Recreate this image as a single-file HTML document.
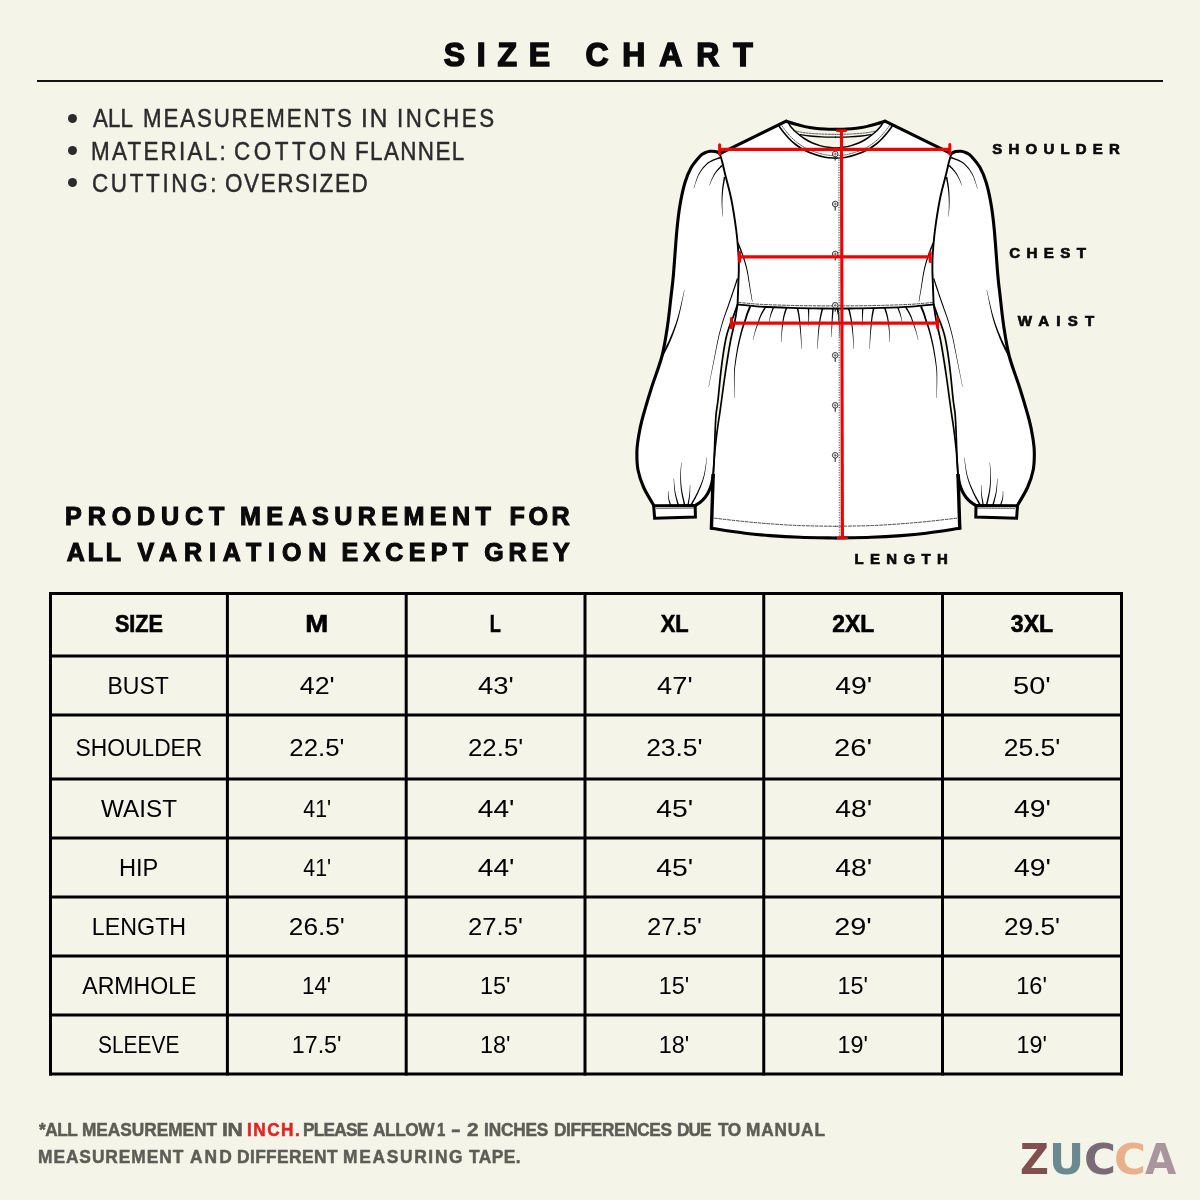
<!DOCTYPE html>
<html lang="en"><head><meta charset="utf-8"><title>Size Chart</title>
<style>
:root{--bg:#f5f4e9}
html,body{margin:0;padding:0}
body{width:1200px;height:1200px;background:var(--bg);position:relative;overflow:hidden;font-family:"Liberation Sans",sans-serif;color:#000}
.t{position:absolute;white-space:nowrap;line-height:1;margin:0;padding:0}
.w{position:absolute;top:0;transform-origin:0 0;white-space:pre}
.ln{position:absolute;background:#000}
.c{position:absolute;display:flex;align-items:center;justify-content:center;white-space:nowrap;line-height:1}
.c span{display:inline-block}
#art{position:absolute;left:0;top:0}
.logo{font-family:"DejaVu Sans",sans-serif;font-weight:bold}
#wrap{position:absolute;left:0;top:0;width:1200px;height:1200px;will-change:transform}
</style></head><body><div id="wrap">
<div class="ln" style="left:37px;top:80px;width:1126px;height:2px;background:#131313"></div>
<svg id="art" width="1200" height="600" viewBox="0 0 1200 600">
<path d="M786.20,121.20 L720.00,153.60 L720.45,155.90 L721.09,158.03 L721.82,160.50 L722.50,163.00 L723.04,165.19 L723.52,167.33 L724.11,169.97 L725.00,173.70 L726.32,178.80 L727.94,184.91 L729.65,191.67 L731.20,198.70 L732.60,206.23 L733.94,214.35 L735.17,222.47 L736.20,230.00 L737.01,236.93 L737.64,243.52 L738.13,249.60 L738.50,255.00 L738.73,259.52 L738.82,263.31 L738.82,266.70 L738.80,270.00 L738.76,272.98 L738.67,275.56 L738.54,278.37 L738.40,282.00 L738.21,287.31 L737.98,293.75 L737.75,299.81 L737.60,304.00 L737.20,306.82 L736.78,309.73 L736.29,312.97 L735.80,316.00 L735.32,318.65 L734.83,321.22 L734.30,323.85 L733.70,326.70 L733.02,329.69 L732.28,332.77 L731.50,336.14 L730.70,340.00 L729.87,344.53 L729.00,349.58 L728.13,354.84 L727.30,360.00 L726.51,365.07 L725.73,370.19 L724.99,375.21 L724.30,380.00 L723.67,384.51 L723.09,388.83 L722.54,392.98 L722.00,397.00 L721.48,400.87 L720.98,404.58 L720.49,408.18 L720.00,411.70 L719.49,415.13 L718.98,418.46 L718.48,421.73 L718.00,425.00 L717.55,428.25 L717.12,431.46 L716.70,434.69 L716.30,438.00 L715.91,441.22 L715.54,444.38 L715.18,447.84 L714.80,452.00 L714.37,457.66 L713.91,464.38 L713.49,470.66 L713.20,475.00 L711.40,528.30 L717.64,529.24 L726.64,530.60 L736.42,532.04 L745.00,533.20 L751.74,533.99 L757.73,534.60 L763.60,535.11 L770.00,535.60 L777.02,536.10 L784.34,536.56 L791.99,536.96 L800.00,537.30 L809.34,537.56 L819.68,537.76 L829.07,537.90 L835.60,538.00 L842.13,537.90 L851.52,537.76 L861.86,537.56 L871.20,537.30 L879.21,536.96 L886.86,536.56 L894.18,536.10 L901.20,535.60 L907.60,535.11 L913.48,534.60 L919.46,533.99 L926.20,533.20 L934.78,532.04 L944.56,530.60 L953.56,529.24 L959.80,528.30 L958.00,475.00 L957.71,470.66 L957.29,464.38 L956.83,457.66 L956.40,452.00 L956.02,447.84 L955.66,444.38 L955.29,441.22 L954.90,438.00 L954.50,434.69 L954.08,431.46 L953.65,428.25 L953.20,425.00 L952.72,421.73 L952.22,418.46 L951.71,415.13 L951.20,411.70 L950.71,408.18 L950.22,404.58 L949.72,400.87 L949.20,397.00 L948.66,392.98 L948.11,388.83 L947.53,384.51 L946.90,380.00 L946.21,375.21 L945.47,370.19 L944.69,365.07 L943.90,360.00 L943.07,354.84 L942.20,349.58 L941.33,344.53 L940.50,340.00 L939.70,336.14 L938.92,332.77 L938.18,329.69 L937.50,326.70 L936.90,323.85 L936.37,321.22 L935.88,318.65 L935.40,316.00 L934.91,312.97 L934.42,309.73 L934.00,306.82 L933.60,304.00 L933.45,299.81 L933.22,293.75 L932.99,287.31 L932.80,282.00 L932.66,278.37 L932.53,275.56 L932.44,272.98 L932.40,270.00 L932.38,266.70 L932.38,263.31 L932.47,259.52 L932.70,255.00 L933.07,249.60 L933.56,243.52 L934.19,236.93 L935.00,230.00 L936.03,222.47 L937.26,214.35 L938.60,206.23 L940.00,198.70 L941.55,191.67 L943.26,184.91 L944.88,178.80 L946.20,173.70 L947.09,169.97 L947.68,167.33 L948.16,165.19 L948.70,163.00 L949.38,160.50 L950.11,158.03 L950.75,155.90 L951.20,153.60 L885.00,121.20 L837.52,129.26 L840.27,129.20 L843.34,129.12 L846.20,129.00 L848.74,128.85 L851.24,128.68 L853.71,128.47 L856.20,128.20 L858.70,127.88 L861.20,127.51 L863.70,127.09 L866.20,126.60 L868.73,126.02 L871.28,125.38 L873.78,124.69 L876.20,124.00 L878.69,123.25 L881.23,122.44 L883.45,121.71 L885.00,121.20 L833.68,129.26 L830.93,129.20 L827.86,129.12 L825.00,129.00 L822.46,128.85 L819.96,128.68 L817.49,128.47 L815.00,128.20 L812.50,127.88 L810.00,127.51 L807.50,127.09 L805.00,126.60 L802.47,126.02 L799.92,125.38 L797.42,124.69 L795.00,124.00 L792.51,123.25 L789.97,122.44 L787.75,121.71 L786.20,121.20Z" fill="#fff"/>
<path d="M720.00,153.60 C719.25,153.27 717.17,151.98 715.50,151.60 C713.83,151.22 711.83,151.07 710.00,151.30 C708.17,151.53 706.17,152.18 704.50,153.00 C702.83,153.82 702.22,153.78 700.00,156.20 C697.78,158.62 693.70,163.12 691.20,167.50 C688.70,171.88 686.87,176.25 685.00,182.50 C683.13,188.75 681.35,197.08 680.00,205.00 C678.65,212.92 678.00,218.33 676.90,230.00 C675.80,241.67 674.35,264.17 673.40,275.00 C672.45,285.83 672.18,286.50 671.20,295.00 C670.22,303.50 669.03,315.83 667.50,326.00 C665.97,336.17 664.72,345.55 662.00,356.00 C659.28,366.45 654.53,378.03 651.20,388.70 C647.87,399.37 644.12,411.95 642.00,420.00 C639.88,428.05 639.35,431.67 638.50,437.00 C637.65,442.33 636.98,446.50 636.90,452.00 C636.82,457.50 636.87,464.08 638.00,470.00 C639.13,475.92 641.08,481.62 643.70,487.50 C646.32,493.38 652.03,502.33 653.70,505.30 L654.60,518.20 L695.40,517.00 L695.20,505.40 C696.08,504.83 698.87,503.32 700.50,502.00 C702.13,500.68 703.58,499.33 705.00,497.50 C706.42,495.67 707.90,493.25 709.00,491.00 C710.10,488.75 710.90,486.67 711.60,484.00 C712.30,481.33 712.93,476.50 713.20,475.00 L713.20,475.00 L713.41,471.41 L713.71,466.25 L714.03,460.47 L714.30,455.00 L714.50,450.00 L714.66,445.00 L714.81,440.00 L715.00,435.00 L715.21,429.88 L715.42,424.69 L715.67,419.65 L716.00,415.00 L716.41,411.17 L716.89,407.92 L717.43,404.46 L718.00,400.00 L718.63,393.99 L719.31,386.96 L720.02,379.78 L720.70,373.30 L721.35,367.75 L721.98,362.67 L722.62,357.90 L723.30,353.30 L724.02,348.76 L724.77,344.37 L725.54,340.31 L726.30,336.70 L727.02,333.75 L727.73,331.33 L728.47,329.09 L729.30,326.70 L730.27,324.09 L731.34,321.44 L732.44,318.75 L733.50,316.00 L734.61,312.91 L735.76,309.58 L736.79,306.59 L737.50,304.50 L737.60,304.00 L737.75,299.81 L737.97,293.75 L738.21,287.31 L738.40,282.00 L738.54,278.37 L738.67,275.56 L738.76,272.98 L738.80,270.00 L738.82,266.70 L738.82,263.31 L738.73,259.52 L738.50,255.00 L738.13,249.60 L737.64,243.52 L737.01,236.93 L736.20,230.00 L735.17,222.47 L733.94,214.35 L732.60,206.23 L731.20,198.70 L729.65,191.67 L727.94,184.91 L726.32,178.80 L725.00,173.70 L724.11,169.97 L723.52,167.32 L723.04,165.19 L722.50,163.00 L721.82,160.50 L721.09,158.03 L720.45,155.90 L720.00,154.40Z" fill="#fff"/>
<path d="M720.00,153.60 C719.25,153.27 717.17,151.98 715.50,151.60 C713.83,151.22 711.83,151.07 710.00,151.30 C708.17,151.53 706.17,152.18 704.50,153.00 C702.83,153.82 702.22,153.78 700.00,156.20 C697.78,158.62 693.70,163.12 691.20,167.50 C688.70,171.88 686.87,176.25 685.00,182.50 C683.13,188.75 681.35,197.08 680.00,205.00 C678.65,212.92 678.00,218.33 676.90,230.00 C675.80,241.67 674.35,264.17 673.40,275.00 C672.45,285.83 672.18,286.50 671.20,295.00 C670.22,303.50 669.03,315.83 667.50,326.00 C665.97,336.17 664.72,345.55 662.00,356.00 C659.28,366.45 654.53,378.03 651.20,388.70 C647.87,399.37 644.12,411.95 642.00,420.00 C639.88,428.05 639.35,431.67 638.50,437.00 C637.65,442.33 636.98,446.50 636.90,452.00 C636.82,457.50 636.87,464.08 638.00,470.00 C639.13,475.92 641.08,481.62 643.70,487.50 C646.32,493.38 652.03,502.33 653.70,505.30 L654.60,518.20 L695.40,517.00 L695.20,505.40 C696.08,504.83 698.87,503.32 700.50,502.00 C702.13,500.68 703.58,499.33 705.00,497.50 C706.42,495.67 707.90,493.25 709.00,491.00 C710.10,488.75 710.90,486.67 711.60,484.00 C712.30,481.33 712.93,476.50 713.20,475.00 L713.20,475.00 L713.41,471.41 L713.71,466.25 L714.03,460.47 L714.30,455.00 L714.50,450.00 L714.66,445.00 L714.81,440.00 L715.00,435.00 L715.21,429.88 L715.42,424.69 L715.67,419.65 L716.00,415.00 L716.41,411.17 L716.89,407.92 L717.43,404.46 L718.00,400.00 L718.63,393.99 L719.31,386.96 L720.02,379.78 L720.70,373.30 L721.35,367.75 L721.98,362.67 L722.62,357.90 L723.30,353.30 L724.02,348.76 L724.77,344.37 L725.54,340.31 L726.30,336.70 L727.02,333.75 L727.73,331.33 L728.47,329.09 L729.30,326.70 L730.27,324.09 L731.34,321.44 L732.44,318.75 L733.50,316.00 L734.61,312.91 L735.76,309.58 L736.79,306.59 L737.50,304.50 L737.60,304.00 L737.75,299.81 L737.97,293.75 L738.21,287.31 L738.40,282.00 L738.54,278.37 L738.67,275.56 L738.76,272.98 L738.80,270.00 L738.82,266.70 L738.82,263.31 L738.73,259.52 L738.50,255.00 L738.13,249.60 L737.64,243.52 L737.01,236.93 L736.20,230.00 L735.17,222.47 L733.94,214.35 L732.60,206.23 L731.20,198.70 L729.65,191.67 L727.94,184.91 L726.32,178.80 L725.00,173.70 L724.11,169.97 L723.52,167.32 L723.04,165.19 L722.50,163.00 L721.82,160.50 L721.09,158.03 L720.45,155.90 L720.00,154.40Z" fill="#fff" transform="translate(1671.20,0) scale(-1,1)"/>
<path d="M786.20,121.20 L787.75,121.71 L789.97,122.44 L792.51,123.25 L795.00,124.00 L797.42,124.69 L799.92,125.38 L802.47,126.02 L805.00,126.60 L807.50,127.09 L810.00,127.51 L812.50,127.88 L815.00,128.20 L817.49,128.47 L819.96,128.68 L822.46,128.85 L825.00,129.00 L827.86,129.12 L830.93,129.20 L833.68,129.26 L835.60,129.30 L837.52,129.26 L840.27,129.20 L843.34,129.12 L846.20,129.00 L848.74,128.85 L851.24,128.68 L853.71,128.47 L856.20,128.20 L858.70,127.88 L861.20,127.51 L863.70,127.09 L866.20,126.60 L868.73,126.02 L871.28,125.38 L873.78,124.69 L876.20,124.00 L878.69,123.25 L881.23,122.44 L883.45,121.71 L885.00,121.20 L882.57,123.35 L881.98,124.43 L881.19,125.68 L880.20,127.00 L878.97,128.39 L877.53,129.90 L875.92,131.46 L874.20,133.00 L872.33,134.55 L870.29,136.12 L868.21,137.64 L866.20,139.00 L864.29,140.17 L862.42,141.21 L860.56,142.15 L858.70,143.00 L856.84,143.77 L854.98,144.44 L853.11,145.05 L851.20,145.60 L849.23,146.11 L847.21,146.57 L845.18,146.97 L843.20,147.30 L841.09,147.56 L838.90,147.76 L836.96,147.90 L835.60,148.00 L834.24,147.90 L832.30,147.76 L830.11,147.56 L828.00,147.30 L826.02,146.97 L823.99,146.57 L821.97,146.11 L820.00,145.60 L818.09,145.05 L816.22,144.44 L814.36,143.77 L812.50,143.00 L810.64,142.15 L808.78,141.21 L806.91,140.17 L805.00,139.00 L802.99,137.64 L800.91,136.12 L798.87,134.55 L797.00,133.00 L795.28,131.46 L793.67,129.90 L792.23,128.39 L791.00,127.00 L790.01,125.68 L789.22,124.43 L788.63,123.35 L788.20,122.60Z" fill="var(--bg)"/>
<g fill="none" stroke="#000" stroke-linecap="round" stroke-linejoin="round">
<path d="M720.00,153.60 C719.25,153.27 717.17,151.98 715.50,151.60 C713.83,151.22 711.83,151.07 710.00,151.30 C708.17,151.53 706.17,152.18 704.50,153.00 C702.83,153.82 702.22,153.78 700.00,156.20 C697.78,158.62 693.70,163.12 691.20,167.50 C688.70,171.88 686.87,176.25 685.00,182.50 C683.13,188.75 681.35,197.08 680.00,205.00 C678.65,212.92 678.00,218.33 676.90,230.00 C675.80,241.67 674.35,264.17 673.40,275.00 C672.45,285.83 672.18,286.50 671.20,295.00 C670.22,303.50 669.03,315.83 667.50,326.00 C665.97,336.17 664.72,345.55 662.00,356.00 C659.28,366.45 654.53,378.03 651.20,388.70 C647.87,399.37 644.12,411.95 642.00,420.00 C639.88,428.05 639.35,431.67 638.50,437.00 C637.65,442.33 636.98,446.50 636.90,452.00 C636.82,457.50 636.87,464.08 638.00,470.00 C639.13,475.92 641.08,481.62 643.70,487.50 C646.32,493.38 652.03,502.33 653.70,505.30" stroke-width="3.1"/>
<path d="M786.20,121.20 L720.00,153.60" stroke-width="3.1"/>
<path d="M653.70,505.80 L695.20,505.40 L695.40,517.00 L654.60,518.20 Z" stroke-width="3" stroke-linejoin="miter" fill="#fff"/>
<path d="M656.50,508.60 L693.50,508.20" stroke-width="0.7" stroke-dasharray="2 1" stroke="#333"/>
<path d="M695.20,505.60 C696.08,505.00 698.87,503.35 700.50,502.00 C702.13,500.65 703.58,499.33 705.00,497.50 C706.42,495.67 707.90,493.25 709.00,491.00 C710.10,488.75 710.90,486.67 711.60,484.00 C712.30,481.33 712.93,476.50 713.20,475.00" stroke-width="3.1"/>
<path d="M713.20,474.00 L711.40,529.50" stroke-width="3.4" stroke-linecap="butt"/>
<path d="M720.00,154.40 C720.42,155.83 721.67,159.78 722.50,163.00 C723.33,166.22 723.55,167.75 725.00,173.70 C726.45,179.65 729.33,189.32 731.20,198.70 C733.07,208.08 734.98,220.62 736.20,230.00 C737.42,239.38 738.07,248.33 738.50,255.00 C738.93,261.67 738.82,265.50 738.80,270.00 C738.78,274.50 738.60,276.33 738.40,282.00 C738.20,287.67 737.73,300.33 737.60,304.00" stroke-width="1.9"/>
<path d="M737.50,304.50 C736.83,306.42 734.87,312.30 733.50,316.00 C732.13,319.70 730.50,323.25 729.30,326.70 C728.10,330.15 727.30,332.27 726.30,336.70 C725.30,341.13 724.23,347.20 723.30,353.30 C722.37,359.40 721.58,365.52 720.70,373.30 C719.82,381.08 718.78,393.05 718.00,400.00 C717.22,406.95 716.50,409.17 716.00,415.00 C715.50,420.83 715.28,428.33 715.00,435.00 C714.72,441.67 714.60,448.33 714.30,455.00 C714.00,461.67 713.38,471.67 713.20,475.00" stroke-width="1.7"/>
<path d="M737.50,304.80 C737.22,306.67 736.43,312.35 735.80,316.00 C735.17,319.65 734.55,322.70 733.70,326.70 C732.85,330.70 731.77,334.45 730.70,340.00 C729.63,345.55 728.37,353.33 727.30,360.00 C726.23,366.67 725.18,373.83 724.30,380.00 C723.42,386.17 722.72,391.72 722.00,397.00 C721.28,402.28 720.67,407.03 720.00,411.70 C719.33,416.37 718.62,420.62 718.00,425.00 C717.38,429.38 716.83,433.50 716.30,438.00 C715.77,442.50 715.32,445.83 714.80,452.00 C714.28,458.17 713.47,471.17 713.20,475.00" stroke-width="1.7"/>
<path d="M711.40,528.30 C717.00,529.12 735.23,531.98 745.00,533.20 C754.77,534.42 760.83,534.92 770.00,535.60 C779.17,536.28 789.07,536.90 800.00,537.30 C810.93,537.70 829.67,537.88 835.60,538.00" stroke-width="3.1"/>
<path d="M714.50,518.20 C719.58,518.77 735.75,520.67 745.00,521.60 C754.25,522.53 760.83,523.13 770.00,523.80 C779.17,524.47 789.07,525.18 800.00,525.60 C810.93,526.02 829.67,526.18 835.60,526.30" stroke-width="0.9" stroke-dasharray="2.8 1.6" stroke="#333"/>
<path d="M786.20,121.20 C787.67,121.67 791.87,123.10 795.00,124.00 C798.13,124.90 801.67,125.90 805.00,126.60 C808.33,127.30 811.67,127.80 815.00,128.20 C818.33,128.60 821.57,128.82 825.00,129.00 C828.43,129.18 833.83,129.25 835.60,129.30" stroke-width="3"/>
<path d="M788.20,122.60 C788.67,123.33 789.53,125.27 791.00,127.00 C792.47,128.73 794.67,131.00 797.00,133.00 C799.33,135.00 802.42,137.33 805.00,139.00 C807.58,140.67 810.00,141.90 812.50,143.00 C815.00,144.10 817.42,144.88 820.00,145.60 C822.58,146.32 825.40,146.90 828.00,147.30 C830.60,147.70 834.33,147.88 835.60,148.00" stroke-width="1.5"/>
<path d="M779.30,126.60 C779.92,127.42 781.38,129.52 783.00,131.50 C784.62,133.48 787.00,136.42 789.00,138.50 C791.00,140.58 792.50,142.08 795.00,144.00 C797.50,145.92 800.67,148.23 804.00,150.00 C807.33,151.77 811.50,153.38 815.00,154.60 C818.50,155.82 821.57,156.70 825.00,157.30 C828.43,157.90 833.83,158.05 835.60,158.20" stroke-width="1.6"/>
<path d="M781.80,125.60 C782.38,126.38 783.77,128.40 785.30,130.30 C786.83,132.20 789.05,134.98 791.00,137.00 C792.95,139.02 794.58,140.57 797.00,142.40 C799.42,144.23 802.33,146.35 805.50,148.00 C808.67,149.65 812.58,151.15 816.00,152.30 C819.42,153.45 822.73,154.33 826.00,154.90 C829.27,155.47 834.00,155.57 835.60,155.70" stroke-width="0.8" stroke-dasharray="1.6 1.1" stroke="#333"/>
<path d="M800.00,134.60 C801.67,134.83 806.33,135.62 810.00,136.00 C813.67,136.38 817.73,136.70 822.00,136.90 C826.27,137.10 833.33,137.15 835.60,137.20" stroke-width="1.3"/>
<path d="M793.50,130.60 C795.42,130.97 800.58,132.23 805.00,132.80 C809.42,133.37 814.90,133.73 820.00,134.00 C825.10,134.27 833.00,134.33 835.60,134.40" stroke-width="0.8" stroke-dasharray="2 1.2" stroke="#333"/>
<path d="M737.60,304.40 C741.33,304.77 751.27,306.02 760.00,306.60 C768.73,307.18 780.83,307.60 790.00,307.90 C799.17,308.20 807.40,308.28 815.00,308.40 C822.60,308.52 832.17,308.57 835.60,308.60" stroke-width="1.8"/>
<path d="M738.40,302.40 C742.00,302.72 751.40,303.80 760.00,304.30 C768.60,304.80 780.83,305.15 790.00,305.40 C799.17,305.65 807.40,305.72 815.00,305.80 C822.60,305.88 832.17,305.88 835.60,305.90" stroke-width="0.9" stroke-dasharray="2.8 1.6" stroke="#333"/>
<path d="M719.70,156.86 L718.99,157.16 L718.06,157.52 L716.93,157.94 L715.67,158.41 L714.30,158.95 L712.89,159.54 L711.47,160.19 L710.10,160.91 L708.80,161.68 L707.64,162.52 L706.58,163.42 L705.56,164.38 L704.57,165.40 L703.62,166.48 L702.70,167.61 L701.81,168.78 L700.96,169.99 L700.15,171.24 L699.39,172.52 L698.66,173.82 L697.97,175.23 L697.31,176.81 L696.68,178.49 L696.09,180.23 L695.54,181.96 L695.04,183.63 L694.59,185.19 L694.19,186.59 L693.84,187.76 L693.56,188.65 L693.84,188.75 L694.15,187.86 L694.54,186.70 L694.98,185.31 L695.48,183.77 L696.03,182.12 L696.63,180.41 L697.26,178.71 L697.93,177.07 L698.62,175.54 L699.34,174.18 L700.09,172.93 L700.88,171.71 L701.70,170.51 L702.57,169.35 L703.47,168.23 L704.40,167.16 L705.35,166.14 L706.34,165.19 L707.34,164.29 L708.36,163.48 L709.47,162.73 L710.70,162.04 L712.04,161.40 L713.43,160.81 L714.82,160.28 L716.17,159.79 L717.44,159.36 L718.58,158.97 L719.55,158.63 L720.30,158.34Z" fill="#000" stroke="none"/>
<path d="M721.46,164.98 L721.10,165.37 L720.64,165.87 L720.08,166.47 L719.45,167.13 L718.78,167.86 L718.09,168.62 L717.40,169.40 L716.73,170.19 L716.12,170.95 L715.58,171.68 L715.10,172.39 L714.64,173.11 L714.21,173.84 L713.80,174.57 L713.42,175.30 L713.05,176.02 L712.69,176.75 L712.35,177.46 L712.03,178.17 L711.71,178.86 L711.39,179.57 L711.09,180.32 L710.79,181.09 L710.51,181.86 L710.24,182.61 L709.99,183.32 L709.77,183.98 L709.57,184.56 L709.40,185.06 L709.26,185.45 L709.54,185.55 L709.70,185.17 L709.89,184.68 L710.12,184.11 L710.38,183.46 L710.66,182.77 L710.96,182.04 L711.28,181.29 L711.61,180.55 L711.95,179.83 L712.29,179.14 L712.64,178.47 L713.00,177.79 L713.38,177.10 L713.76,176.40 L714.16,175.70 L714.57,175.01 L715.01,174.32 L715.46,173.64 L715.93,172.97 L716.42,172.32 L716.97,171.65 L717.60,170.94 L718.29,170.21 L719.00,169.48 L719.72,168.76 L720.42,168.08 L721.08,167.45 L721.66,166.88 L722.16,166.40 L722.54,166.02Z" fill="#000" stroke="none"/>
<path d="M723.81,176.87 L723.70,177.64 L723.55,178.64 L723.36,179.82 L723.16,181.14 L722.94,182.57 L722.72,184.07 L722.51,185.59 L722.32,187.11 L722.15,188.57 L722.02,189.94 L721.92,191.25 L721.83,192.55 L721.76,193.85 L721.70,195.15 L721.66,196.45 L721.63,197.75 L721.61,199.05 L721.61,200.36 L721.61,201.68 L721.63,203.00 L721.67,204.40 L721.73,205.89 L721.81,207.45 L721.91,209.03 L722.02,210.58 L722.12,212.06 L722.23,213.44 L722.32,214.67 L722.40,215.70 L722.45,216.51 L722.75,216.49 L722.72,215.69 L722.68,214.65 L722.63,213.41 L722.57,212.04 L722.51,210.55 L722.45,209.00 L722.41,207.43 L722.38,205.87 L722.36,204.38 L722.37,203.00 L722.40,201.68 L722.44,200.37 L722.48,199.07 L722.54,197.78 L722.62,196.49 L722.70,195.20 L722.80,193.92 L722.91,192.63 L723.04,191.35 L723.18,190.06 L723.35,188.71 L723.57,187.28 L723.81,185.79 L724.07,184.28 L724.33,182.80 L724.60,181.39 L724.84,180.07 L725.07,178.90 L725.25,177.90 L725.39,177.13Z" fill="#000" stroke="none"/>
<path d="M662.98,356.50 L663.44,355.58 L664.03,354.42 L664.74,353.06 L665.53,351.52 L666.39,349.84 L667.28,348.04 L668.19,346.16 L669.10,344.23 L669.97,342.28 L670.79,340.34 L671.57,338.39 L672.37,336.38 L673.17,334.31 L673.97,332.19 L674.76,330.00 L675.55,327.75 L676.33,325.44 L677.08,323.07 L677.81,320.64 L678.52,318.15 L679.22,315.44 L679.93,312.45 L680.64,309.25 L681.34,305.97 L682.02,302.69 L682.65,299.53 L683.24,296.58 L683.75,293.95 L684.20,291.73 L684.55,290.03 L684.25,289.97 L683.86,291.66 L683.36,293.86 L682.77,296.48 L682.10,299.41 L681.38,302.56 L680.62,305.81 L679.83,309.06 L679.04,312.23 L678.25,315.19 L677.48,317.85 L676.72,320.30 L675.92,322.69 L675.11,325.02 L674.28,327.29 L673.44,329.50 L672.59,331.65 L671.73,333.75 L670.88,335.78 L670.04,337.75 L669.21,339.66 L668.36,341.55 L667.45,343.45 L666.50,345.33 L665.55,347.16 L664.61,348.91 L663.72,350.56 L662.89,352.07 L662.15,353.42 L661.51,354.57 L661.02,355.50Z" fill="#000" stroke="none"/>
<path d="M737.30,243.27 L737.61,244.04 L738.01,245.03 L738.49,246.18 L739.03,247.48 L739.60,248.88 L740.19,250.35 L740.79,251.86 L741.36,253.36 L741.91,254.82 L742.40,256.20 L742.85,257.54 L743.30,258.86 L743.73,260.18 L744.16,261.51 L744.57,262.85 L744.98,264.22 L745.37,265.62 L745.76,267.06 L746.13,268.55 L746.50,270.11 L746.85,271.76 L747.20,273.50 L747.53,275.33 L747.86,277.20 L748.17,279.10 L748.48,281.00 L748.78,282.87 L749.07,284.68 L749.36,286.42 L749.64,288.06 L749.92,289.65 L750.21,291.26 L750.50,292.86 L750.78,294.42 L751.04,295.93 L751.30,297.34 L751.53,298.63 L751.74,299.78 L751.91,300.76 L752.05,301.54 L752.55,301.46 L752.42,300.67 L752.26,299.69 L752.07,298.54 L751.86,297.24 L751.63,295.82 L751.39,294.32 L751.13,292.75 L750.87,291.15 L750.61,289.53 L750.36,287.94 L750.11,286.30 L749.85,284.56 L749.59,282.74 L749.32,280.87 L749.04,278.96 L748.75,277.06 L748.46,275.17 L748.15,273.33 L747.83,271.56 L747.50,269.89 L747.16,268.31 L746.80,266.80 L746.44,265.33 L746.06,263.91 L745.68,262.53 L745.28,261.16 L744.88,259.82 L744.46,258.48 L744.04,257.15 L743.60,255.80 L743.13,254.39 L742.60,252.90 L742.05,251.38 L741.47,249.85 L740.90,248.37 L740.35,246.95 L739.84,245.64 L739.38,244.48 L738.99,243.49 L738.70,242.73Z" fill="#000" stroke="none"/>
<path d="M736.88,278.29 L736.56,279.29 L736.13,280.60 L735.62,282.15 L735.06,283.88 L734.45,285.74 L733.82,287.67 L733.18,289.60 L732.57,291.47 L731.98,293.23 L731.46,294.82 L730.97,296.26 L730.50,297.66 L730.04,299.01 L729.60,300.32 L729.16,301.60 L728.73,302.86 L728.30,304.11 L727.87,305.35 L727.45,306.59 L727.02,307.83 L726.59,309.05 L726.18,310.22 L725.77,311.35 L725.36,312.48 L724.95,313.60 L724.54,314.75 L724.13,315.93 L723.72,317.17 L723.30,318.47 L722.87,319.87 L722.43,321.32 L721.99,322.81 L721.54,324.33 L721.08,325.91 L720.63,327.53 L720.17,329.21 L719.71,330.95 L719.25,332.77 L718.79,334.65 L718.33,336.61 L717.88,338.67 L717.43,340.81 L716.98,343.03 L716.52,345.32 L716.07,347.66 L715.62,350.06 L715.16,352.49 L714.69,354.96 L714.22,357.45 L713.73,359.95 L713.22,362.60 L712.65,365.50 L712.06,368.56 L711.45,371.67 L710.86,374.77 L710.28,377.74 L709.74,380.51 L709.27,382.98 L708.86,385.07 L708.55,386.67 L708.85,386.73 L709.17,385.13 L709.59,383.05 L710.09,380.58 L710.65,377.82 L711.26,374.85 L711.88,371.76 L712.51,368.65 L713.13,365.60 L713.72,362.70 L714.27,360.05 L714.77,357.56 L715.27,355.07 L715.76,352.61 L716.24,350.18 L716.71,347.79 L717.19,345.45 L717.66,343.17 L718.13,340.96 L718.60,338.83 L719.07,336.79 L719.54,334.83 L720.02,332.96 L720.49,331.16 L720.96,329.43 L721.43,327.76 L721.90,326.14 L722.37,324.58 L722.83,323.06 L723.28,321.58 L723.73,320.13 L724.17,318.75 L724.60,317.46 L725.03,316.24 L725.45,315.07 L725.86,313.93 L726.28,312.82 L726.69,311.70 L727.12,310.56 L727.55,309.39 L727.98,308.17 L728.42,306.93 L728.86,305.69 L729.30,304.46 L729.74,303.22 L730.18,301.96 L730.63,300.68 L731.09,299.37 L731.56,298.02 L732.04,296.63 L732.54,295.18 L733.08,293.60 L733.68,291.85 L734.32,289.98 L734.97,288.05 L735.61,286.13 L736.24,284.28 L736.82,282.55 L737.34,281.00 L737.78,279.70 L738.12,278.71Z" fill="#000" stroke="none"/>
<path d="M671.12,504.81 L670.98,504.39 L670.79,503.86 L670.56,503.23 L670.30,502.53 L670.03,501.78 L669.76,500.99 L669.50,500.19 L669.26,499.40 L669.05,498.64 L668.89,497.94 L668.77,497.23 L668.67,496.46 L668.59,495.66 L668.53,494.86 L668.48,494.06 L668.45,493.29 L668.42,492.59 L668.40,491.95 L668.37,491.41 L668.35,491.00 L668.05,491.00 L668.05,491.42 L668.03,491.95 L668.01,492.59 L667.99,493.30 L667.97,494.07 L667.96,494.87 L667.96,495.70 L667.99,496.51 L668.03,497.31 L668.11,498.06 L668.23,498.82 L668.39,499.62 L668.58,500.45 L668.79,501.28 L669.01,502.10 L669.22,502.88 L669.43,503.60 L669.62,504.24 L669.77,504.77 L669.88,505.19Z" fill="#000" stroke="none"/>
<path d="M678.88,504.82 L678.66,504.05 L678.37,503.07 L678.03,501.90 L677.64,500.60 L677.24,499.20 L676.82,497.72 L676.42,496.23 L676.04,494.73 L675.70,493.29 L675.42,491.93 L675.19,490.56 L674.98,489.08 L674.79,487.53 L674.62,485.96 L674.47,484.42 L674.34,482.94 L674.22,481.56 L674.12,480.33 L674.03,479.29 L673.95,478.49 L673.65,478.51 L673.70,479.32 L673.74,480.36 L673.80,481.59 L673.86,482.97 L673.93,484.46 L674.02,486.01 L674.12,487.59 L674.25,489.16 L674.40,490.66 L674.58,492.07 L674.81,493.47 L675.09,494.95 L675.41,496.47 L675.76,498.00 L676.11,499.49 L676.47,500.92 L676.80,502.24 L677.09,503.41 L677.34,504.40 L677.52,505.18Z" fill="#000" stroke="none"/>
<path d="M685.33,504.84 L685.13,503.94 L684.85,502.78 L684.51,501.41 L684.14,499.88 L683.75,498.23 L683.35,496.52 L682.96,494.78 L682.60,493.07 L682.28,491.44 L682.03,489.92 L681.82,488.50 L681.64,487.08 L681.49,485.67 L681.35,484.27 L681.24,482.88 L681.15,481.50 L681.07,480.12 L681.01,478.74 L680.97,477.37 L680.94,476.00 L680.93,474.58 L680.96,473.06 L681.02,471.50 L681.09,469.93 L681.18,468.39 L681.27,466.92 L681.36,465.56 L681.44,464.34 L681.51,463.31 L681.55,462.51 L681.25,462.49 L681.18,463.29 L681.09,464.31 L680.97,465.53 L680.84,466.89 L680.71,468.36 L680.58,469.90 L680.46,471.47 L680.37,473.04 L680.30,474.56 L680.26,476.00 L680.25,477.38 L680.26,478.76 L680.28,480.15 L680.32,481.54 L680.37,482.93 L680.45,484.34 L680.54,485.75 L680.66,487.18 L680.80,488.62 L680.97,490.08 L681.19,491.62 L681.46,493.28 L681.77,495.02 L682.11,496.78 L682.47,498.52 L682.82,500.18 L683.15,501.73 L683.44,503.10 L683.69,504.26 L683.87,505.16Z" fill="#000" stroke="none"/>
<path d="M688.64,505.11 L688.73,504.51 L688.84,503.75 L688.98,502.84 L689.14,501.82 L689.30,500.72 L689.47,499.56 L689.63,498.39 L689.77,497.22 L689.90,496.10 L690.00,495.04 L690.07,493.99 L690.12,492.86 L690.16,491.70 L690.19,490.53 L690.21,489.38 L690.22,488.29 L690.23,487.27 L690.23,486.37 L690.24,485.60 L690.25,485.01 L689.95,484.99 L689.91,485.59 L689.87,486.35 L689.82,487.26 L689.76,488.27 L689.69,489.37 L689.62,490.51 L689.53,491.67 L689.43,492.82 L689.33,493.92 L689.20,494.96 L689.06,495.99 L688.88,497.10 L688.67,498.24 L688.46,499.40 L688.24,500.53 L688.02,501.62 L687.81,502.63 L687.63,503.53 L687.47,504.30 L687.36,504.89Z" fill="#000" stroke="none"/>
<path d="M691.70,505.39 L692.11,504.63 L692.64,503.66 L693.27,502.53 L693.99,501.25 L694.75,499.85 L695.55,498.38 L696.35,496.85 L697.13,495.30 L697.88,493.75 L698.56,492.25 L699.19,490.77 L699.84,489.26 L700.48,487.71 L701.11,486.13 L701.73,484.53 L702.32,482.89 L702.89,481.23 L703.43,479.54 L703.93,477.83 L704.38,476.10 L704.79,474.25 L705.16,472.23 L705.50,470.10 L705.80,467.93 L706.08,465.78 L706.33,463.72 L706.54,461.79 L706.74,460.08 L706.90,458.63 L707.05,457.52 L706.75,457.48 L706.58,458.59 L706.37,460.03 L706.14,461.74 L705.87,463.66 L705.57,465.72 L705.24,467.85 L704.88,470.00 L704.49,472.10 L704.07,474.09 L703.62,475.90 L703.13,477.60 L702.60,479.28 L702.03,480.93 L701.42,482.56 L700.79,484.16 L700.13,485.74 L699.47,487.29 L698.79,488.81 L698.12,490.29 L697.44,491.75 L696.74,493.21 L695.97,494.70 L695.16,496.21 L694.32,497.70 L693.50,499.15 L692.70,500.51 L691.96,501.77 L691.30,502.90 L690.73,503.85 L690.30,504.61Z" fill="#000" stroke="none"/>
<path d="M749.28,306.02 L749.12,306.40 L748.91,306.90 L748.67,307.50 L748.39,308.16 L748.09,308.89 L747.78,309.65 L747.47,310.42 L747.17,311.20 L746.88,311.96 L746.62,312.68 L746.39,313.37 L746.17,314.04 L745.96,314.70 L745.77,315.36 L745.57,316.03 L745.38,316.71 L745.17,317.41 L744.96,318.14 L744.73,318.91 L744.47,319.73 L744.20,320.57 L743.92,321.42 L743.62,322.28 L743.31,323.18 L742.98,324.12 L742.65,325.11 L742.31,326.16 L741.96,327.29 L741.61,328.50 L741.25,329.79 L740.89,331.20 L740.50,332.73 L740.10,334.34 L739.69,336.03 L739.28,337.77 L738.88,339.55 L738.48,341.34 L738.09,343.12 L737.73,344.87 L737.39,346.58 L737.08,348.27 L736.77,350.00 L736.48,351.74 L736.20,353.49 L735.93,355.23 L735.68,356.94 L735.44,358.61 L735.22,360.23 L735.02,361.77 L734.84,363.24 L734.68,364.56 L734.53,365.72 L734.41,366.76 L734.30,367.74 L734.21,368.71 L734.13,369.71 L734.06,370.79 L734.01,372.00 L733.97,373.38 L733.94,374.99 L733.93,376.94 L733.95,379.25 L733.98,381.80 L734.03,384.49 L734.09,387.23 L734.15,389.92 L734.22,392.44 L734.27,394.69 L734.32,396.58 L734.35,398.00 L734.65,398.00 L734.65,396.58 L734.63,394.69 L734.62,392.43 L734.60,389.91 L734.59,387.23 L734.58,384.49 L734.58,381.79 L734.59,379.24 L734.61,376.95 L734.66,375.01 L734.72,373.41 L734.78,372.03 L734.85,370.84 L734.94,369.77 L735.03,368.79 L735.14,367.84 L735.27,366.87 L735.41,365.83 L735.57,364.68 L735.76,363.36 L735.97,361.90 L736.20,360.36 L736.45,358.76 L736.71,357.10 L736.99,355.40 L737.29,353.67 L737.60,351.94 L737.93,350.21 L738.26,348.50 L738.61,346.82 L738.97,345.13 L739.36,343.40 L739.78,341.63 L740.20,339.86 L740.64,338.10 L741.08,336.37 L741.52,334.70 L741.95,333.10 L742.36,331.59 L742.75,330.21 L743.12,328.94 L743.48,327.76 L743.84,326.66 L744.20,325.64 L744.54,324.67 L744.88,323.74 L745.21,322.85 L745.53,321.98 L745.83,321.13 L746.13,320.27 L746.40,319.44 L746.65,318.66 L746.88,317.92 L747.10,317.22 L747.30,316.55 L747.51,315.89 L747.71,315.25 L747.92,314.61 L748.14,313.97 L748.38,313.32 L748.64,312.63 L748.93,311.90 L749.25,311.14 L749.56,310.38 L749.88,309.64 L750.19,308.93 L750.48,308.27 L750.74,307.68 L750.96,307.18 L751.12,306.78Z" fill="#000" stroke="none"/>
<path d="M764.81,306.60 L764.54,307.08 L764.20,307.69 L763.78,308.42 L763.31,309.25 L762.81,310.13 L762.29,311.07 L761.78,312.01 L761.29,312.96 L760.83,313.87 L760.43,314.73 L760.08,315.55 L759.75,316.36 L759.45,317.16 L759.16,317.95 L758.88,318.75 L758.62,319.55 L758.36,320.36 L758.10,321.17 L757.83,322.00 L757.55,322.84 L757.26,323.71 L756.97,324.61 L756.67,325.52 L756.37,326.44 L756.07,327.38 L755.78,328.31 L755.49,329.23 L755.22,330.15 L754.96,331.04 L754.71,331.92 L754.48,332.80 L754.25,333.72 L754.02,334.66 L753.81,335.60 L753.60,336.51 L753.41,337.38 L753.24,338.18 L753.09,338.89 L752.96,339.49 L752.85,339.96 L753.15,340.04 L753.27,339.57 L753.42,338.97 L753.60,338.26 L753.80,337.47 L754.02,336.61 L754.26,335.71 L754.51,334.79 L754.76,333.86 L755.02,332.95 L755.29,332.08 L755.56,331.23 L755.86,330.35 L756.16,329.45 L756.48,328.54 L756.80,327.62 L757.14,326.71 L757.47,325.80 L757.80,324.90 L758.13,324.02 L758.45,323.16 L758.76,322.32 L759.06,321.50 L759.35,320.70 L759.64,319.91 L759.93,319.12 L760.23,318.35 L760.53,317.58 L760.86,316.81 L761.20,316.04 L761.57,315.27 L761.99,314.46 L762.46,313.59 L762.98,312.68 L763.52,311.77 L764.06,310.87 L764.59,310.00 L765.09,309.20 L765.53,308.48 L765.91,307.87 L766.19,307.40Z" fill="#000" stroke="none"/>
<path d="M772.85,307.15 L772.71,307.53 L772.53,308.03 L772.32,308.61 L772.08,309.27 L771.82,309.98 L771.56,310.74 L771.29,311.52 L771.03,312.32 L770.79,313.10 L770.57,313.87 L770.37,314.67 L770.16,315.54 L769.96,316.46 L769.76,317.41 L769.57,318.35 L769.39,319.25 L769.22,320.09 L769.08,320.85 L768.95,321.48 L768.85,321.96 L769.15,322.04 L769.28,321.56 L769.45,320.93 L769.65,320.19 L769.87,319.37 L770.12,318.48 L770.38,317.56 L770.64,316.64 L770.91,315.74 L771.17,314.89 L771.43,314.13 L771.69,313.40 L771.98,312.65 L772.29,311.90 L772.61,311.15 L772.93,310.42 L773.23,309.73 L773.51,309.09 L773.77,308.53 L773.99,308.04 L774.15,307.65Z" fill="#000" stroke="none"/>
<path d="M785.74,307.56 L785.59,308.04 L785.40,308.66 L785.18,309.39 L784.92,310.22 L784.65,311.11 L784.37,312.06 L784.09,313.02 L783.83,313.99 L783.59,314.94 L783.38,315.85 L783.20,316.74 L783.03,317.63 L782.88,318.53 L782.73,319.45 L782.60,320.36 L782.47,321.28 L782.35,322.20 L782.24,323.12 L782.14,324.03 L782.03,324.94 L781.94,325.85 L781.85,326.77 L781.77,327.69 L781.70,328.61 L781.64,329.53 L781.58,330.44 L781.53,331.35 L781.48,332.24 L781.44,333.12 L781.40,333.98 L781.37,334.86 L781.35,335.78 L781.34,336.72 L781.34,337.65 L781.34,338.56 L781.34,339.42 L781.34,340.22 L781.35,340.93 L781.35,341.53 L781.35,342.00 L781.65,342.00 L781.67,341.53 L781.69,340.93 L781.71,340.22 L781.73,339.43 L781.76,338.57 L781.80,337.66 L781.84,336.73 L781.88,335.80 L781.94,334.89 L782.00,334.02 L782.07,333.16 L782.14,332.29 L782.22,331.40 L782.31,330.50 L782.40,329.60 L782.50,328.69 L782.60,327.77 L782.72,326.86 L782.84,325.96 L782.97,325.06 L783.10,324.16 L783.24,323.26 L783.38,322.35 L783.53,321.44 L783.69,320.54 L783.86,319.64 L784.03,318.75 L784.22,317.87 L784.42,317.00 L784.62,316.15 L784.86,315.28 L785.13,314.36 L785.42,313.42 L785.73,312.48 L786.04,311.56 L786.34,310.68 L786.63,309.87 L786.88,309.15 L787.10,308.53 L787.26,308.04Z" fill="#000" stroke="none"/>
<path d="M796.71,308.15 L796.81,308.63 L796.94,309.23 L797.10,309.93 L797.27,310.73 L797.46,311.58 L797.65,312.48 L797.84,313.40 L798.02,314.33 L798.19,315.23 L798.34,316.10 L798.47,316.94 L798.59,317.77 L798.71,318.61 L798.82,319.45 L798.93,320.31 L799.04,321.20 L799.14,322.10 L799.25,323.05 L799.36,324.03 L799.47,325.05 L799.59,326.13 L799.72,327.25 L799.84,328.42 L799.97,329.62 L800.10,330.85 L800.22,332.09 L800.34,333.34 L800.46,334.58 L800.56,335.81 L800.66,337.02 L800.75,338.27 L800.84,339.61 L800.93,340.99 L801.01,342.39 L801.08,343.76 L801.15,345.07 L801.21,346.29 L801.26,347.37 L801.31,348.29 L801.35,349.01 L801.65,348.99 L801.63,348.28 L801.62,347.36 L801.60,346.28 L801.57,345.06 L801.55,343.74 L801.51,342.37 L801.48,340.97 L801.44,339.58 L801.39,338.24 L801.34,336.98 L801.28,335.76 L801.21,334.52 L801.13,333.27 L801.05,332.02 L800.97,330.78 L800.88,329.54 L800.79,328.34 L800.70,327.16 L800.61,326.03 L800.53,324.95 L800.45,323.92 L800.37,322.94 L800.29,321.99 L800.21,321.08 L800.13,320.19 L800.05,319.31 L799.96,318.46 L799.87,317.61 L799.77,316.76 L799.66,315.90 L799.54,315.01 L799.40,314.09 L799.24,313.14 L799.08,312.21 L798.92,311.29 L798.76,310.43 L798.61,309.63 L798.48,308.92 L798.37,308.32 L798.29,307.85Z" fill="#000" stroke="none"/>
<path d="M807.80,308.22 L807.83,308.74 L807.87,309.41 L807.92,310.21 L807.97,311.09 L808.03,312.05 L808.09,313.06 L808.14,314.08 L808.20,315.09 L808.24,316.08 L808.27,317.00 L808.30,317.93 L808.31,318.93 L808.33,319.96 L808.34,321.01 L808.34,322.04 L808.34,323.03 L808.34,323.95 L808.35,324.77 L808.35,325.46 L808.35,326.00 L808.65,326.00 L808.68,325.47 L808.72,324.78 L808.77,323.96 L808.83,323.05 L808.88,322.06 L808.94,321.02 L809.00,319.98 L809.05,318.94 L809.09,317.94 L809.13,317.00 L809.15,316.07 L809.17,315.08 L809.18,314.06 L809.19,313.03 L809.19,312.02 L809.20,311.06 L809.20,310.17 L809.20,309.37 L809.20,308.70 L809.20,308.18Z" fill="#000" stroke="none"/>
<path d="M821.72,308.21 L821.61,308.72 L821.46,309.36 L821.29,310.12 L821.09,310.97 L820.87,311.90 L820.66,312.88 L820.44,313.89 L820.22,314.90 L820.03,315.91 L819.85,316.88 L819.69,317.82 L819.54,318.79 L819.39,319.77 L819.25,320.76 L819.11,321.76 L818.98,322.78 L818.85,323.81 L818.73,324.84 L818.62,325.89 L818.50,326.94 L818.40,328.01 L818.30,329.09 L818.20,330.18 L818.11,331.29 L818.03,332.40 L817.95,333.52 L817.87,334.64 L817.80,335.76 L817.74,336.87 L817.68,337.98 L817.62,339.13 L817.57,340.36 L817.53,341.63 L817.49,342.92 L817.46,344.18 L817.43,345.38 L817.41,346.50 L817.39,347.50 L817.37,348.34 L817.35,348.99 L817.65,349.01 L817.69,348.35 L817.73,347.51 L817.79,346.52 L817.85,345.40 L817.91,344.20 L817.99,342.94 L818.06,341.66 L818.15,340.39 L818.23,339.17 L818.32,338.02 L818.42,336.92 L818.52,335.81 L818.62,334.70 L818.73,333.59 L818.85,332.47 L818.97,331.37 L819.09,330.27 L819.22,329.19 L819.36,328.11 L819.50,327.06 L819.64,326.02 L819.79,324.98 L819.94,323.96 L820.10,322.94 L820.26,321.94 L820.43,320.94 L820.60,319.96 L820.78,319.00 L820.96,318.05 L821.15,317.12 L821.35,316.18 L821.58,315.20 L821.82,314.20 L822.06,313.21 L822.31,312.25 L822.55,311.33 L822.78,310.49 L822.98,309.74 L823.15,309.09 L823.28,308.59Z" fill="#000" stroke="none"/>
<path d="M832.25,308.44 L832.22,309.01 L832.18,309.73 L832.13,310.58 L832.08,311.54 L832.02,312.57 L831.96,313.66 L831.90,314.77 L831.85,315.87 L831.80,316.95 L831.75,317.97 L831.71,318.95 L831.68,319.96 L831.64,320.97 L831.61,321.99 L831.58,323.01 L831.55,324.03 L831.53,325.04 L831.50,326.04 L831.48,327.02 L831.46,327.99 L831.44,328.97 L831.43,330.00 L831.41,331.05 L831.40,332.10 L831.39,333.12 L831.38,334.09 L831.37,334.99 L831.36,335.79 L831.36,336.46 L831.35,337.00 L831.65,337.00 L831.68,336.47 L831.71,335.80 L831.75,335.00 L831.80,334.10 L831.85,333.13 L831.90,332.11 L831.96,331.07 L832.02,330.02 L832.08,328.99 L832.14,328.01 L832.20,327.05 L832.26,326.07 L832.33,325.08 L832.40,324.07 L832.47,323.05 L832.54,322.04 L832.62,321.02 L832.69,320.01 L832.77,319.02 L832.85,318.03 L832.93,317.02 L833.03,315.96 L833.13,314.86 L833.24,313.76 L833.34,312.68 L833.44,311.64 L833.54,310.69 L833.62,309.84 L833.69,309.12 L833.75,308.56Z" fill="#000" stroke="none"/>
</g>
<g transform="translate(1671.20,0) scale(-1,1)" fill="none" stroke="#000" stroke-linecap="round" stroke-linejoin="round">
<path d="M720.00,153.60 C719.25,153.27 717.17,151.98 715.50,151.60 C713.83,151.22 711.83,151.07 710.00,151.30 C708.17,151.53 706.17,152.18 704.50,153.00 C702.83,153.82 702.22,153.78 700.00,156.20 C697.78,158.62 693.70,163.12 691.20,167.50 C688.70,171.88 686.87,176.25 685.00,182.50 C683.13,188.75 681.35,197.08 680.00,205.00 C678.65,212.92 678.00,218.33 676.90,230.00 C675.80,241.67 674.35,264.17 673.40,275.00 C672.45,285.83 672.18,286.50 671.20,295.00 C670.22,303.50 669.03,315.83 667.50,326.00 C665.97,336.17 664.72,345.55 662.00,356.00 C659.28,366.45 654.53,378.03 651.20,388.70 C647.87,399.37 644.12,411.95 642.00,420.00 C639.88,428.05 639.35,431.67 638.50,437.00 C637.65,442.33 636.98,446.50 636.90,452.00 C636.82,457.50 636.87,464.08 638.00,470.00 C639.13,475.92 641.08,481.62 643.70,487.50 C646.32,493.38 652.03,502.33 653.70,505.30" stroke-width="3.1"/>
<path d="M786.20,121.20 L720.00,153.60" stroke-width="3.1"/>
<path d="M653.70,505.80 L695.20,505.40 L695.40,517.00 L654.60,518.20 Z" stroke-width="3" stroke-linejoin="miter" fill="#fff"/>
<path d="M656.50,508.60 L693.50,508.20" stroke-width="0.7" stroke-dasharray="2 1" stroke="#333"/>
<path d="M695.20,505.60 C696.08,505.00 698.87,503.35 700.50,502.00 C702.13,500.65 703.58,499.33 705.00,497.50 C706.42,495.67 707.90,493.25 709.00,491.00 C710.10,488.75 710.90,486.67 711.60,484.00 C712.30,481.33 712.93,476.50 713.20,475.00" stroke-width="3.1"/>
<path d="M713.20,474.00 L711.40,529.50" stroke-width="3.4" stroke-linecap="butt"/>
<path d="M720.00,154.40 C720.42,155.83 721.67,159.78 722.50,163.00 C723.33,166.22 723.55,167.75 725.00,173.70 C726.45,179.65 729.33,189.32 731.20,198.70 C733.07,208.08 734.98,220.62 736.20,230.00 C737.42,239.38 738.07,248.33 738.50,255.00 C738.93,261.67 738.82,265.50 738.80,270.00 C738.78,274.50 738.60,276.33 738.40,282.00 C738.20,287.67 737.73,300.33 737.60,304.00" stroke-width="1.9"/>
<path d="M737.50,304.50 C736.83,306.42 734.87,312.30 733.50,316.00 C732.13,319.70 730.50,323.25 729.30,326.70 C728.10,330.15 727.30,332.27 726.30,336.70 C725.30,341.13 724.23,347.20 723.30,353.30 C722.37,359.40 721.58,365.52 720.70,373.30 C719.82,381.08 718.78,393.05 718.00,400.00 C717.22,406.95 716.50,409.17 716.00,415.00 C715.50,420.83 715.28,428.33 715.00,435.00 C714.72,441.67 714.60,448.33 714.30,455.00 C714.00,461.67 713.38,471.67 713.20,475.00" stroke-width="1.7"/>
<path d="M737.50,304.80 C737.22,306.67 736.43,312.35 735.80,316.00 C735.17,319.65 734.55,322.70 733.70,326.70 C732.85,330.70 731.77,334.45 730.70,340.00 C729.63,345.55 728.37,353.33 727.30,360.00 C726.23,366.67 725.18,373.83 724.30,380.00 C723.42,386.17 722.72,391.72 722.00,397.00 C721.28,402.28 720.67,407.03 720.00,411.70 C719.33,416.37 718.62,420.62 718.00,425.00 C717.38,429.38 716.83,433.50 716.30,438.00 C715.77,442.50 715.32,445.83 714.80,452.00 C714.28,458.17 713.47,471.17 713.20,475.00" stroke-width="1.7"/>
<path d="M711.40,528.30 C717.00,529.12 735.23,531.98 745.00,533.20 C754.77,534.42 760.83,534.92 770.00,535.60 C779.17,536.28 789.07,536.90 800.00,537.30 C810.93,537.70 829.67,537.88 835.60,538.00" stroke-width="3.1"/>
<path d="M714.50,518.20 C719.58,518.77 735.75,520.67 745.00,521.60 C754.25,522.53 760.83,523.13 770.00,523.80 C779.17,524.47 789.07,525.18 800.00,525.60 C810.93,526.02 829.67,526.18 835.60,526.30" stroke-width="0.9" stroke-dasharray="2.8 1.6" stroke="#333"/>
<path d="M786.20,121.20 C787.67,121.67 791.87,123.10 795.00,124.00 C798.13,124.90 801.67,125.90 805.00,126.60 C808.33,127.30 811.67,127.80 815.00,128.20 C818.33,128.60 821.57,128.82 825.00,129.00 C828.43,129.18 833.83,129.25 835.60,129.30" stroke-width="3"/>
<path d="M788.20,122.60 C788.67,123.33 789.53,125.27 791.00,127.00 C792.47,128.73 794.67,131.00 797.00,133.00 C799.33,135.00 802.42,137.33 805.00,139.00 C807.58,140.67 810.00,141.90 812.50,143.00 C815.00,144.10 817.42,144.88 820.00,145.60 C822.58,146.32 825.40,146.90 828.00,147.30 C830.60,147.70 834.33,147.88 835.60,148.00" stroke-width="1.5"/>
<path d="M779.30,126.60 C779.92,127.42 781.38,129.52 783.00,131.50 C784.62,133.48 787.00,136.42 789.00,138.50 C791.00,140.58 792.50,142.08 795.00,144.00 C797.50,145.92 800.67,148.23 804.00,150.00 C807.33,151.77 811.50,153.38 815.00,154.60 C818.50,155.82 821.57,156.70 825.00,157.30 C828.43,157.90 833.83,158.05 835.60,158.20" stroke-width="1.6"/>
<path d="M781.80,125.60 C782.38,126.38 783.77,128.40 785.30,130.30 C786.83,132.20 789.05,134.98 791.00,137.00 C792.95,139.02 794.58,140.57 797.00,142.40 C799.42,144.23 802.33,146.35 805.50,148.00 C808.67,149.65 812.58,151.15 816.00,152.30 C819.42,153.45 822.73,154.33 826.00,154.90 C829.27,155.47 834.00,155.57 835.60,155.70" stroke-width="0.8" stroke-dasharray="1.6 1.1" stroke="#333"/>
<path d="M800.00,134.60 C801.67,134.83 806.33,135.62 810.00,136.00 C813.67,136.38 817.73,136.70 822.00,136.90 C826.27,137.10 833.33,137.15 835.60,137.20" stroke-width="1.3"/>
<path d="M793.50,130.60 C795.42,130.97 800.58,132.23 805.00,132.80 C809.42,133.37 814.90,133.73 820.00,134.00 C825.10,134.27 833.00,134.33 835.60,134.40" stroke-width="0.8" stroke-dasharray="2 1.2" stroke="#333"/>
<path d="M737.60,304.40 C741.33,304.77 751.27,306.02 760.00,306.60 C768.73,307.18 780.83,307.60 790.00,307.90 C799.17,308.20 807.40,308.28 815.00,308.40 C822.60,308.52 832.17,308.57 835.60,308.60" stroke-width="1.8"/>
<path d="M738.40,302.40 C742.00,302.72 751.40,303.80 760.00,304.30 C768.60,304.80 780.83,305.15 790.00,305.40 C799.17,305.65 807.40,305.72 815.00,305.80 C822.60,305.88 832.17,305.88 835.60,305.90" stroke-width="0.9" stroke-dasharray="2.8 1.6" stroke="#333"/>
<path d="M719.70,156.86 L718.99,157.16 L718.06,157.52 L716.93,157.94 L715.67,158.41 L714.30,158.95 L712.89,159.54 L711.47,160.19 L710.10,160.91 L708.80,161.68 L707.64,162.52 L706.58,163.42 L705.56,164.38 L704.57,165.40 L703.62,166.48 L702.70,167.61 L701.81,168.78 L700.96,169.99 L700.15,171.24 L699.39,172.52 L698.66,173.82 L697.97,175.23 L697.31,176.81 L696.68,178.49 L696.09,180.23 L695.54,181.96 L695.04,183.63 L694.59,185.19 L694.19,186.59 L693.84,187.76 L693.56,188.65 L693.84,188.75 L694.15,187.86 L694.54,186.70 L694.98,185.31 L695.48,183.77 L696.03,182.12 L696.63,180.41 L697.26,178.71 L697.93,177.07 L698.62,175.54 L699.34,174.18 L700.09,172.93 L700.88,171.71 L701.70,170.51 L702.57,169.35 L703.47,168.23 L704.40,167.16 L705.35,166.14 L706.34,165.19 L707.34,164.29 L708.36,163.48 L709.47,162.73 L710.70,162.04 L712.04,161.40 L713.43,160.81 L714.82,160.28 L716.17,159.79 L717.44,159.36 L718.58,158.97 L719.55,158.63 L720.30,158.34Z" fill="#000" stroke="none"/>
<path d="M721.46,164.98 L721.10,165.37 L720.64,165.87 L720.08,166.47 L719.45,167.13 L718.78,167.86 L718.09,168.62 L717.40,169.40 L716.73,170.19 L716.12,170.95 L715.58,171.68 L715.10,172.39 L714.64,173.11 L714.21,173.84 L713.80,174.57 L713.42,175.30 L713.05,176.02 L712.69,176.75 L712.35,177.46 L712.03,178.17 L711.71,178.86 L711.39,179.57 L711.09,180.32 L710.79,181.09 L710.51,181.86 L710.24,182.61 L709.99,183.32 L709.77,183.98 L709.57,184.56 L709.40,185.06 L709.26,185.45 L709.54,185.55 L709.70,185.17 L709.89,184.68 L710.12,184.11 L710.38,183.46 L710.66,182.77 L710.96,182.04 L711.28,181.29 L711.61,180.55 L711.95,179.83 L712.29,179.14 L712.64,178.47 L713.00,177.79 L713.38,177.10 L713.76,176.40 L714.16,175.70 L714.57,175.01 L715.01,174.32 L715.46,173.64 L715.93,172.97 L716.42,172.32 L716.97,171.65 L717.60,170.94 L718.29,170.21 L719.00,169.48 L719.72,168.76 L720.42,168.08 L721.08,167.45 L721.66,166.88 L722.16,166.40 L722.54,166.02Z" fill="#000" stroke="none"/>
<path d="M723.81,176.87 L723.70,177.64 L723.55,178.64 L723.36,179.82 L723.16,181.14 L722.94,182.57 L722.72,184.07 L722.51,185.59 L722.32,187.11 L722.15,188.57 L722.02,189.94 L721.92,191.25 L721.83,192.55 L721.76,193.85 L721.70,195.15 L721.66,196.45 L721.63,197.75 L721.61,199.05 L721.61,200.36 L721.61,201.68 L721.63,203.00 L721.67,204.40 L721.73,205.89 L721.81,207.45 L721.91,209.03 L722.02,210.58 L722.12,212.06 L722.23,213.44 L722.32,214.67 L722.40,215.70 L722.45,216.51 L722.75,216.49 L722.72,215.69 L722.68,214.65 L722.63,213.41 L722.57,212.04 L722.51,210.55 L722.45,209.00 L722.41,207.43 L722.38,205.87 L722.36,204.38 L722.37,203.00 L722.40,201.68 L722.44,200.37 L722.48,199.07 L722.54,197.78 L722.62,196.49 L722.70,195.20 L722.80,193.92 L722.91,192.63 L723.04,191.35 L723.18,190.06 L723.35,188.71 L723.57,187.28 L723.81,185.79 L724.07,184.28 L724.33,182.80 L724.60,181.39 L724.84,180.07 L725.07,178.90 L725.25,177.90 L725.39,177.13Z" fill="#000" stroke="none"/>
<path d="M662.98,356.50 L663.44,355.58 L664.03,354.42 L664.74,353.06 L665.53,351.52 L666.39,349.84 L667.28,348.04 L668.19,346.16 L669.10,344.23 L669.97,342.28 L670.79,340.34 L671.57,338.39 L672.37,336.38 L673.17,334.31 L673.97,332.19 L674.76,330.00 L675.55,327.75 L676.33,325.44 L677.08,323.07 L677.81,320.64 L678.52,318.15 L679.22,315.44 L679.93,312.45 L680.64,309.25 L681.34,305.97 L682.02,302.69 L682.65,299.53 L683.24,296.58 L683.75,293.95 L684.20,291.73 L684.55,290.03 L684.25,289.97 L683.86,291.66 L683.36,293.86 L682.77,296.48 L682.10,299.41 L681.38,302.56 L680.62,305.81 L679.83,309.06 L679.04,312.23 L678.25,315.19 L677.48,317.85 L676.72,320.30 L675.92,322.69 L675.11,325.02 L674.28,327.29 L673.44,329.50 L672.59,331.65 L671.73,333.75 L670.88,335.78 L670.04,337.75 L669.21,339.66 L668.36,341.55 L667.45,343.45 L666.50,345.33 L665.55,347.16 L664.61,348.91 L663.72,350.56 L662.89,352.07 L662.15,353.42 L661.51,354.57 L661.02,355.50Z" fill="#000" stroke="none"/>
<path d="M737.30,243.27 L737.61,244.04 L738.01,245.03 L738.49,246.18 L739.03,247.48 L739.60,248.88 L740.19,250.35 L740.79,251.86 L741.36,253.36 L741.91,254.82 L742.40,256.20 L742.85,257.54 L743.30,258.86 L743.73,260.18 L744.16,261.51 L744.57,262.85 L744.98,264.22 L745.37,265.62 L745.76,267.06 L746.13,268.55 L746.50,270.11 L746.85,271.76 L747.20,273.50 L747.53,275.33 L747.86,277.20 L748.17,279.10 L748.48,281.00 L748.78,282.87 L749.07,284.68 L749.36,286.42 L749.64,288.06 L749.92,289.65 L750.21,291.26 L750.50,292.86 L750.78,294.42 L751.04,295.93 L751.30,297.34 L751.53,298.63 L751.74,299.78 L751.91,300.76 L752.05,301.54 L752.55,301.46 L752.42,300.67 L752.26,299.69 L752.07,298.54 L751.86,297.24 L751.63,295.82 L751.39,294.32 L751.13,292.75 L750.87,291.15 L750.61,289.53 L750.36,287.94 L750.11,286.30 L749.85,284.56 L749.59,282.74 L749.32,280.87 L749.04,278.96 L748.75,277.06 L748.46,275.17 L748.15,273.33 L747.83,271.56 L747.50,269.89 L747.16,268.31 L746.80,266.80 L746.44,265.33 L746.06,263.91 L745.68,262.53 L745.28,261.16 L744.88,259.82 L744.46,258.48 L744.04,257.15 L743.60,255.80 L743.13,254.39 L742.60,252.90 L742.05,251.38 L741.47,249.85 L740.90,248.37 L740.35,246.95 L739.84,245.64 L739.38,244.48 L738.99,243.49 L738.70,242.73Z" fill="#000" stroke="none"/>
<path d="M736.88,278.29 L736.56,279.29 L736.13,280.60 L735.62,282.15 L735.06,283.88 L734.45,285.74 L733.82,287.67 L733.18,289.60 L732.57,291.47 L731.98,293.23 L731.46,294.82 L730.97,296.26 L730.50,297.66 L730.04,299.01 L729.60,300.32 L729.16,301.60 L728.73,302.86 L728.30,304.11 L727.87,305.35 L727.45,306.59 L727.02,307.83 L726.59,309.05 L726.18,310.22 L725.77,311.35 L725.36,312.48 L724.95,313.60 L724.54,314.75 L724.13,315.93 L723.72,317.17 L723.30,318.47 L722.87,319.87 L722.43,321.32 L721.99,322.81 L721.54,324.33 L721.08,325.91 L720.63,327.53 L720.17,329.21 L719.71,330.95 L719.25,332.77 L718.79,334.65 L718.33,336.61 L717.88,338.67 L717.43,340.81 L716.98,343.03 L716.52,345.32 L716.07,347.66 L715.62,350.06 L715.16,352.49 L714.69,354.96 L714.22,357.45 L713.73,359.95 L713.22,362.60 L712.65,365.50 L712.06,368.56 L711.45,371.67 L710.86,374.77 L710.28,377.74 L709.74,380.51 L709.27,382.98 L708.86,385.07 L708.55,386.67 L708.85,386.73 L709.17,385.13 L709.59,383.05 L710.09,380.58 L710.65,377.82 L711.26,374.85 L711.88,371.76 L712.51,368.65 L713.13,365.60 L713.72,362.70 L714.27,360.05 L714.77,357.56 L715.27,355.07 L715.76,352.61 L716.24,350.18 L716.71,347.79 L717.19,345.45 L717.66,343.17 L718.13,340.96 L718.60,338.83 L719.07,336.79 L719.54,334.83 L720.02,332.96 L720.49,331.16 L720.96,329.43 L721.43,327.76 L721.90,326.14 L722.37,324.58 L722.83,323.06 L723.28,321.58 L723.73,320.13 L724.17,318.75 L724.60,317.46 L725.03,316.24 L725.45,315.07 L725.86,313.93 L726.28,312.82 L726.69,311.70 L727.12,310.56 L727.55,309.39 L727.98,308.17 L728.42,306.93 L728.86,305.69 L729.30,304.46 L729.74,303.22 L730.18,301.96 L730.63,300.68 L731.09,299.37 L731.56,298.02 L732.04,296.63 L732.54,295.18 L733.08,293.60 L733.68,291.85 L734.32,289.98 L734.97,288.05 L735.61,286.13 L736.24,284.28 L736.82,282.55 L737.34,281.00 L737.78,279.70 L738.12,278.71Z" fill="#000" stroke="none"/>
<path d="M671.12,504.81 L670.98,504.39 L670.79,503.86 L670.56,503.23 L670.30,502.53 L670.03,501.78 L669.76,500.99 L669.50,500.19 L669.26,499.40 L669.05,498.64 L668.89,497.94 L668.77,497.23 L668.67,496.46 L668.59,495.66 L668.53,494.86 L668.48,494.06 L668.45,493.29 L668.42,492.59 L668.40,491.95 L668.37,491.41 L668.35,491.00 L668.05,491.00 L668.05,491.42 L668.03,491.95 L668.01,492.59 L667.99,493.30 L667.97,494.07 L667.96,494.87 L667.96,495.70 L667.99,496.51 L668.03,497.31 L668.11,498.06 L668.23,498.82 L668.39,499.62 L668.58,500.45 L668.79,501.28 L669.01,502.10 L669.22,502.88 L669.43,503.60 L669.62,504.24 L669.77,504.77 L669.88,505.19Z" fill="#000" stroke="none"/>
<path d="M678.88,504.82 L678.66,504.05 L678.37,503.07 L678.03,501.90 L677.64,500.60 L677.24,499.20 L676.82,497.72 L676.42,496.23 L676.04,494.73 L675.70,493.29 L675.42,491.93 L675.19,490.56 L674.98,489.08 L674.79,487.53 L674.62,485.96 L674.47,484.42 L674.34,482.94 L674.22,481.56 L674.12,480.33 L674.03,479.29 L673.95,478.49 L673.65,478.51 L673.70,479.32 L673.74,480.36 L673.80,481.59 L673.86,482.97 L673.93,484.46 L674.02,486.01 L674.12,487.59 L674.25,489.16 L674.40,490.66 L674.58,492.07 L674.81,493.47 L675.09,494.95 L675.41,496.47 L675.76,498.00 L676.11,499.49 L676.47,500.92 L676.80,502.24 L677.09,503.41 L677.34,504.40 L677.52,505.18Z" fill="#000" stroke="none"/>
<path d="M685.33,504.84 L685.13,503.94 L684.85,502.78 L684.51,501.41 L684.14,499.88 L683.75,498.23 L683.35,496.52 L682.96,494.78 L682.60,493.07 L682.28,491.44 L682.03,489.92 L681.82,488.50 L681.64,487.08 L681.49,485.67 L681.35,484.27 L681.24,482.88 L681.15,481.50 L681.07,480.12 L681.01,478.74 L680.97,477.37 L680.94,476.00 L680.93,474.58 L680.96,473.06 L681.02,471.50 L681.09,469.93 L681.18,468.39 L681.27,466.92 L681.36,465.56 L681.44,464.34 L681.51,463.31 L681.55,462.51 L681.25,462.49 L681.18,463.29 L681.09,464.31 L680.97,465.53 L680.84,466.89 L680.71,468.36 L680.58,469.90 L680.46,471.47 L680.37,473.04 L680.30,474.56 L680.26,476.00 L680.25,477.38 L680.26,478.76 L680.28,480.15 L680.32,481.54 L680.37,482.93 L680.45,484.34 L680.54,485.75 L680.66,487.18 L680.80,488.62 L680.97,490.08 L681.19,491.62 L681.46,493.28 L681.77,495.02 L682.11,496.78 L682.47,498.52 L682.82,500.18 L683.15,501.73 L683.44,503.10 L683.69,504.26 L683.87,505.16Z" fill="#000" stroke="none"/>
<path d="M688.64,505.11 L688.73,504.51 L688.84,503.75 L688.98,502.84 L689.14,501.82 L689.30,500.72 L689.47,499.56 L689.63,498.39 L689.77,497.22 L689.90,496.10 L690.00,495.04 L690.07,493.99 L690.12,492.86 L690.16,491.70 L690.19,490.53 L690.21,489.38 L690.22,488.29 L690.23,487.27 L690.23,486.37 L690.24,485.60 L690.25,485.01 L689.95,484.99 L689.91,485.59 L689.87,486.35 L689.82,487.26 L689.76,488.27 L689.69,489.37 L689.62,490.51 L689.53,491.67 L689.43,492.82 L689.33,493.92 L689.20,494.96 L689.06,495.99 L688.88,497.10 L688.67,498.24 L688.46,499.40 L688.24,500.53 L688.02,501.62 L687.81,502.63 L687.63,503.53 L687.47,504.30 L687.36,504.89Z" fill="#000" stroke="none"/>
<path d="M691.70,505.39 L692.11,504.63 L692.64,503.66 L693.27,502.53 L693.99,501.25 L694.75,499.85 L695.55,498.38 L696.35,496.85 L697.13,495.30 L697.88,493.75 L698.56,492.25 L699.19,490.77 L699.84,489.26 L700.48,487.71 L701.11,486.13 L701.73,484.53 L702.32,482.89 L702.89,481.23 L703.43,479.54 L703.93,477.83 L704.38,476.10 L704.79,474.25 L705.16,472.23 L705.50,470.10 L705.80,467.93 L706.08,465.78 L706.33,463.72 L706.54,461.79 L706.74,460.08 L706.90,458.63 L707.05,457.52 L706.75,457.48 L706.58,458.59 L706.37,460.03 L706.14,461.74 L705.87,463.66 L705.57,465.72 L705.24,467.85 L704.88,470.00 L704.49,472.10 L704.07,474.09 L703.62,475.90 L703.13,477.60 L702.60,479.28 L702.03,480.93 L701.42,482.56 L700.79,484.16 L700.13,485.74 L699.47,487.29 L698.79,488.81 L698.12,490.29 L697.44,491.75 L696.74,493.21 L695.97,494.70 L695.16,496.21 L694.32,497.70 L693.50,499.15 L692.70,500.51 L691.96,501.77 L691.30,502.90 L690.73,503.85 L690.30,504.61Z" fill="#000" stroke="none"/>
<path d="M749.28,306.02 L749.12,306.40 L748.91,306.90 L748.67,307.50 L748.39,308.16 L748.09,308.89 L747.78,309.65 L747.47,310.42 L747.17,311.20 L746.88,311.96 L746.62,312.68 L746.39,313.37 L746.17,314.04 L745.96,314.70 L745.77,315.36 L745.57,316.03 L745.38,316.71 L745.17,317.41 L744.96,318.14 L744.73,318.91 L744.47,319.73 L744.20,320.57 L743.92,321.42 L743.62,322.28 L743.31,323.18 L742.98,324.12 L742.65,325.11 L742.31,326.16 L741.96,327.29 L741.61,328.50 L741.25,329.79 L740.89,331.20 L740.50,332.73 L740.10,334.34 L739.69,336.03 L739.28,337.77 L738.88,339.55 L738.48,341.34 L738.09,343.12 L737.73,344.87 L737.39,346.58 L737.08,348.27 L736.77,350.00 L736.48,351.74 L736.20,353.49 L735.93,355.23 L735.68,356.94 L735.44,358.61 L735.22,360.23 L735.02,361.77 L734.84,363.24 L734.68,364.56 L734.53,365.72 L734.41,366.76 L734.30,367.74 L734.21,368.71 L734.13,369.71 L734.06,370.79 L734.01,372.00 L733.97,373.38 L733.94,374.99 L733.93,376.94 L733.95,379.25 L733.98,381.80 L734.03,384.49 L734.09,387.23 L734.15,389.92 L734.22,392.44 L734.27,394.69 L734.32,396.58 L734.35,398.00 L734.65,398.00 L734.65,396.58 L734.63,394.69 L734.62,392.43 L734.60,389.91 L734.59,387.23 L734.58,384.49 L734.58,381.79 L734.59,379.24 L734.61,376.95 L734.66,375.01 L734.72,373.41 L734.78,372.03 L734.85,370.84 L734.94,369.77 L735.03,368.79 L735.14,367.84 L735.27,366.87 L735.41,365.83 L735.57,364.68 L735.76,363.36 L735.97,361.90 L736.20,360.36 L736.45,358.76 L736.71,357.10 L736.99,355.40 L737.29,353.67 L737.60,351.94 L737.93,350.21 L738.26,348.50 L738.61,346.82 L738.97,345.13 L739.36,343.40 L739.78,341.63 L740.20,339.86 L740.64,338.10 L741.08,336.37 L741.52,334.70 L741.95,333.10 L742.36,331.59 L742.75,330.21 L743.12,328.94 L743.48,327.76 L743.84,326.66 L744.20,325.64 L744.54,324.67 L744.88,323.74 L745.21,322.85 L745.53,321.98 L745.83,321.13 L746.13,320.27 L746.40,319.44 L746.65,318.66 L746.88,317.92 L747.10,317.22 L747.30,316.55 L747.51,315.89 L747.71,315.25 L747.92,314.61 L748.14,313.97 L748.38,313.32 L748.64,312.63 L748.93,311.90 L749.25,311.14 L749.56,310.38 L749.88,309.64 L750.19,308.93 L750.48,308.27 L750.74,307.68 L750.96,307.18 L751.12,306.78Z" fill="#000" stroke="none"/>
<path d="M764.81,306.60 L764.54,307.08 L764.20,307.69 L763.78,308.42 L763.31,309.25 L762.81,310.13 L762.29,311.07 L761.78,312.01 L761.29,312.96 L760.83,313.87 L760.43,314.73 L760.08,315.55 L759.75,316.36 L759.45,317.16 L759.16,317.95 L758.88,318.75 L758.62,319.55 L758.36,320.36 L758.10,321.17 L757.83,322.00 L757.55,322.84 L757.26,323.71 L756.97,324.61 L756.67,325.52 L756.37,326.44 L756.07,327.38 L755.78,328.31 L755.49,329.23 L755.22,330.15 L754.96,331.04 L754.71,331.92 L754.48,332.80 L754.25,333.72 L754.02,334.66 L753.81,335.60 L753.60,336.51 L753.41,337.38 L753.24,338.18 L753.09,338.89 L752.96,339.49 L752.85,339.96 L753.15,340.04 L753.27,339.57 L753.42,338.97 L753.60,338.26 L753.80,337.47 L754.02,336.61 L754.26,335.71 L754.51,334.79 L754.76,333.86 L755.02,332.95 L755.29,332.08 L755.56,331.23 L755.86,330.35 L756.16,329.45 L756.48,328.54 L756.80,327.62 L757.14,326.71 L757.47,325.80 L757.80,324.90 L758.13,324.02 L758.45,323.16 L758.76,322.32 L759.06,321.50 L759.35,320.70 L759.64,319.91 L759.93,319.12 L760.23,318.35 L760.53,317.58 L760.86,316.81 L761.20,316.04 L761.57,315.27 L761.99,314.46 L762.46,313.59 L762.98,312.68 L763.52,311.77 L764.06,310.87 L764.59,310.00 L765.09,309.20 L765.53,308.48 L765.91,307.87 L766.19,307.40Z" fill="#000" stroke="none"/>
<path d="M772.85,307.15 L772.71,307.53 L772.53,308.03 L772.32,308.61 L772.08,309.27 L771.82,309.98 L771.56,310.74 L771.29,311.52 L771.03,312.32 L770.79,313.10 L770.57,313.87 L770.37,314.67 L770.16,315.54 L769.96,316.46 L769.76,317.41 L769.57,318.35 L769.39,319.25 L769.22,320.09 L769.08,320.85 L768.95,321.48 L768.85,321.96 L769.15,322.04 L769.28,321.56 L769.45,320.93 L769.65,320.19 L769.87,319.37 L770.12,318.48 L770.38,317.56 L770.64,316.64 L770.91,315.74 L771.17,314.89 L771.43,314.13 L771.69,313.40 L771.98,312.65 L772.29,311.90 L772.61,311.15 L772.93,310.42 L773.23,309.73 L773.51,309.09 L773.77,308.53 L773.99,308.04 L774.15,307.65Z" fill="#000" stroke="none"/>
<path d="M785.74,307.56 L785.59,308.04 L785.40,308.66 L785.18,309.39 L784.92,310.22 L784.65,311.11 L784.37,312.06 L784.09,313.02 L783.83,313.99 L783.59,314.94 L783.38,315.85 L783.20,316.74 L783.03,317.63 L782.88,318.53 L782.73,319.45 L782.60,320.36 L782.47,321.28 L782.35,322.20 L782.24,323.12 L782.14,324.03 L782.03,324.94 L781.94,325.85 L781.85,326.77 L781.77,327.69 L781.70,328.61 L781.64,329.53 L781.58,330.44 L781.53,331.35 L781.48,332.24 L781.44,333.12 L781.40,333.98 L781.37,334.86 L781.35,335.78 L781.34,336.72 L781.34,337.65 L781.34,338.56 L781.34,339.42 L781.34,340.22 L781.35,340.93 L781.35,341.53 L781.35,342.00 L781.65,342.00 L781.67,341.53 L781.69,340.93 L781.71,340.22 L781.73,339.43 L781.76,338.57 L781.80,337.66 L781.84,336.73 L781.88,335.80 L781.94,334.89 L782.00,334.02 L782.07,333.16 L782.14,332.29 L782.22,331.40 L782.31,330.50 L782.40,329.60 L782.50,328.69 L782.60,327.77 L782.72,326.86 L782.84,325.96 L782.97,325.06 L783.10,324.16 L783.24,323.26 L783.38,322.35 L783.53,321.44 L783.69,320.54 L783.86,319.64 L784.03,318.75 L784.22,317.87 L784.42,317.00 L784.62,316.15 L784.86,315.28 L785.13,314.36 L785.42,313.42 L785.73,312.48 L786.04,311.56 L786.34,310.68 L786.63,309.87 L786.88,309.15 L787.10,308.53 L787.26,308.04Z" fill="#000" stroke="none"/>
<path d="M796.71,308.15 L796.81,308.63 L796.94,309.23 L797.10,309.93 L797.27,310.73 L797.46,311.58 L797.65,312.48 L797.84,313.40 L798.02,314.33 L798.19,315.23 L798.34,316.10 L798.47,316.94 L798.59,317.77 L798.71,318.61 L798.82,319.45 L798.93,320.31 L799.04,321.20 L799.14,322.10 L799.25,323.05 L799.36,324.03 L799.47,325.05 L799.59,326.13 L799.72,327.25 L799.84,328.42 L799.97,329.62 L800.10,330.85 L800.22,332.09 L800.34,333.34 L800.46,334.58 L800.56,335.81 L800.66,337.02 L800.75,338.27 L800.84,339.61 L800.93,340.99 L801.01,342.39 L801.08,343.76 L801.15,345.07 L801.21,346.29 L801.26,347.37 L801.31,348.29 L801.35,349.01 L801.65,348.99 L801.63,348.28 L801.62,347.36 L801.60,346.28 L801.57,345.06 L801.55,343.74 L801.51,342.37 L801.48,340.97 L801.44,339.58 L801.39,338.24 L801.34,336.98 L801.28,335.76 L801.21,334.52 L801.13,333.27 L801.05,332.02 L800.97,330.78 L800.88,329.54 L800.79,328.34 L800.70,327.16 L800.61,326.03 L800.53,324.95 L800.45,323.92 L800.37,322.94 L800.29,321.99 L800.21,321.08 L800.13,320.19 L800.05,319.31 L799.96,318.46 L799.87,317.61 L799.77,316.76 L799.66,315.90 L799.54,315.01 L799.40,314.09 L799.24,313.14 L799.08,312.21 L798.92,311.29 L798.76,310.43 L798.61,309.63 L798.48,308.92 L798.37,308.32 L798.29,307.85Z" fill="#000" stroke="none"/>
<path d="M807.80,308.22 L807.83,308.74 L807.87,309.41 L807.92,310.21 L807.97,311.09 L808.03,312.05 L808.09,313.06 L808.14,314.08 L808.20,315.09 L808.24,316.08 L808.27,317.00 L808.30,317.93 L808.31,318.93 L808.33,319.96 L808.34,321.01 L808.34,322.04 L808.34,323.03 L808.34,323.95 L808.35,324.77 L808.35,325.46 L808.35,326.00 L808.65,326.00 L808.68,325.47 L808.72,324.78 L808.77,323.96 L808.83,323.05 L808.88,322.06 L808.94,321.02 L809.00,319.98 L809.05,318.94 L809.09,317.94 L809.13,317.00 L809.15,316.07 L809.17,315.08 L809.18,314.06 L809.19,313.03 L809.19,312.02 L809.20,311.06 L809.20,310.17 L809.20,309.37 L809.20,308.70 L809.20,308.18Z" fill="#000" stroke="none"/>
<path d="M821.72,308.21 L821.61,308.72 L821.46,309.36 L821.29,310.12 L821.09,310.97 L820.87,311.90 L820.66,312.88 L820.44,313.89 L820.22,314.90 L820.03,315.91 L819.85,316.88 L819.69,317.82 L819.54,318.79 L819.39,319.77 L819.25,320.76 L819.11,321.76 L818.98,322.78 L818.85,323.81 L818.73,324.84 L818.62,325.89 L818.50,326.94 L818.40,328.01 L818.30,329.09 L818.20,330.18 L818.11,331.29 L818.03,332.40 L817.95,333.52 L817.87,334.64 L817.80,335.76 L817.74,336.87 L817.68,337.98 L817.62,339.13 L817.57,340.36 L817.53,341.63 L817.49,342.92 L817.46,344.18 L817.43,345.38 L817.41,346.50 L817.39,347.50 L817.37,348.34 L817.35,348.99 L817.65,349.01 L817.69,348.35 L817.73,347.51 L817.79,346.52 L817.85,345.40 L817.91,344.20 L817.99,342.94 L818.06,341.66 L818.15,340.39 L818.23,339.17 L818.32,338.02 L818.42,336.92 L818.52,335.81 L818.62,334.70 L818.73,333.59 L818.85,332.47 L818.97,331.37 L819.09,330.27 L819.22,329.19 L819.36,328.11 L819.50,327.06 L819.64,326.02 L819.79,324.98 L819.94,323.96 L820.10,322.94 L820.26,321.94 L820.43,320.94 L820.60,319.96 L820.78,319.00 L820.96,318.05 L821.15,317.12 L821.35,316.18 L821.58,315.20 L821.82,314.20 L822.06,313.21 L822.31,312.25 L822.55,311.33 L822.78,310.49 L822.98,309.74 L823.15,309.09 L823.28,308.59Z" fill="#000" stroke="none"/>
<path d="M832.25,308.44 L832.22,309.01 L832.18,309.73 L832.13,310.58 L832.08,311.54 L832.02,312.57 L831.96,313.66 L831.90,314.77 L831.85,315.87 L831.80,316.95 L831.75,317.97 L831.71,318.95 L831.68,319.96 L831.64,320.97 L831.61,321.99 L831.58,323.01 L831.55,324.03 L831.53,325.04 L831.50,326.04 L831.48,327.02 L831.46,327.99 L831.44,328.97 L831.43,330.00 L831.41,331.05 L831.40,332.10 L831.39,333.12 L831.38,334.09 L831.37,334.99 L831.36,335.79 L831.36,336.46 L831.35,337.00 L831.65,337.00 L831.68,336.47 L831.71,335.80 L831.75,335.00 L831.80,334.10 L831.85,333.13 L831.90,332.11 L831.96,331.07 L832.02,330.02 L832.08,328.99 L832.14,328.01 L832.20,327.05 L832.26,326.07 L832.33,325.08 L832.40,324.07 L832.47,323.05 L832.54,322.04 L832.62,321.02 L832.69,320.01 L832.77,319.02 L832.85,318.03 L832.93,317.02 L833.03,315.96 L833.13,314.86 L833.24,313.76 L833.34,312.68 L833.44,311.64 L833.54,310.69 L833.62,309.84 L833.69,309.12 L833.75,308.56Z" fill="#000" stroke="none"/>
</g>
<path d="M836.51,308.62 L836.59,309.00 L836.70,309.49 L836.83,310.07 L836.98,310.72 L837.13,311.41 L837.29,312.15 L837.45,312.89 L837.60,313.64 L837.74,314.37 L837.87,315.06 L837.99,315.76 L838.11,316.52 L838.22,317.32 L838.34,318.13 L838.44,318.93 L838.55,319.70 L838.64,320.42 L838.72,321.06 L838.79,321.60 L838.85,322.01 L839.15,321.99 L839.13,321.57 L839.10,321.02 L839.07,320.38 L839.03,319.66 L838.99,318.88 L838.95,318.07 L838.90,317.25 L838.85,316.44 L838.79,315.66 L838.73,314.94 L838.66,314.23 L838.57,313.49 L838.48,312.72 L838.38,311.96 L838.28,311.21 L838.18,310.50 L838.09,309.84 L838.01,309.26 L837.94,308.76 L837.89,308.38Z" fill="#000"/>
<path d="M838.9,157 L839.6,537" stroke="#7d8585" stroke-width="1.6" stroke-dasharray="1.2 1.3" fill="none"/>
<g stroke="#222" stroke-width="0.9" fill="#fff"><circle cx="835.2" cy="154.0" r="2.8"/><path d="M833.6,154.0 h3.2 M835.2,152.4 v3.2" fill="none" stroke-width="0.6"/><path d="M835.2,156.8 v3.6" stroke-width="1.1"/></g>
<g stroke="#222" stroke-width="0.9" fill="#fff"><circle cx="835.2" cy="204.0" r="2.8"/><path d="M833.6,204.0 h3.2 M835.2,202.4 v3.2" fill="none" stroke-width="0.6"/><path d="M835.2,206.8 v3.6" stroke-width="1.1"/></g>
<g stroke="#222" stroke-width="0.9" fill="#fff"><circle cx="835.2" cy="254.0" r="2.8"/><path d="M833.6,254.0 h3.2 M835.2,252.4 v3.2" fill="none" stroke-width="0.6"/><path d="M835.2,256.8 v3.6" stroke-width="1.1"/></g>
<g stroke="#222" stroke-width="0.9" fill="#fff"><circle cx="835.2" cy="305.3" r="2.8"/><path d="M833.6,305.3 h3.2 M835.2,303.7 v3.2" fill="none" stroke-width="0.6"/><path d="M835.2,308.1 v3.6" stroke-width="1.1"/></g>
<g stroke="#222" stroke-width="0.9" fill="#fff"><circle cx="835.2" cy="355.3" r="2.8"/><path d="M833.6,355.3 h3.2 M835.2,353.7 v3.2" fill="none" stroke-width="0.6"/><path d="M835.2,358.1 v3.6" stroke-width="1.1"/></g>
<g stroke="#222" stroke-width="0.9" fill="#fff"><circle cx="835.2" cy="405.3" r="2.8"/><path d="M833.6,405.3 h3.2 M835.2,403.7 v3.2" fill="none" stroke-width="0.6"/><path d="M835.2,408.1 v3.6" stroke-width="1.1"/></g>
<g stroke="#222" stroke-width="0.9" fill="#fff"><circle cx="835.2" cy="455.3" r="2.8"/><path d="M833.6,455.3 h3.2 M835.2,453.7 v3.2" fill="none" stroke-width="0.6"/><path d="M835.2,458.1 v3.6" stroke-width="1.1"/></g>
<g stroke="#f00000" fill="none" stroke-linecap="round">
<path d="M720,149.4 H949.6" stroke-width="3.2" stroke-linecap="butt"/>
<path d="M719.6,144.8 V154.1 M949.8,144.6 V153.9" stroke-width="3"/>
<path d="M739.8,256.8 H930" stroke-width="3.2" stroke-linecap="butt"/>
<path d="M739.6,252.2 V261.4 M930.2,252.2 V261.4" stroke-width="3"/>
<path d="M731.6,323.2 H937.4" stroke-width="3.2" stroke-linecap="butt"/>
<path d="M731.4,318.6 V327.8 M937.6,318.6 V327.8" stroke-width="3"/>
<path d="M841.5,131 L842.4,538" stroke-width="3.1" stroke-linecap="butt"/>
<path d="M837.3,130.7 H845.7 M838.2,538 H846.6" stroke-width="2.7"/>
</g>
</svg>
<svg id="grid" width="1200" height="1200" viewBox="0 0 1200 1200" style="position:absolute;left:0;top:0"><g fill="#000">
<rect x="49.00" y="592.00" width="1074.00" height="3.00"/>
<rect x="49.00" y="654.50" width="1074.00" height="3.00"/>
<rect x="49.00" y="713.50" width="1074.00" height="3.00"/>
<rect x="49.00" y="777.50" width="1074.00" height="3.00"/>
<rect x="49.00" y="836.50" width="1074.00" height="3.00"/>
<rect x="49.00" y="895.50" width="1074.00" height="3.00"/>
<rect x="49.00" y="954.50" width="1074.00" height="3.00"/>
<rect x="49.00" y="1013.50" width="1074.00" height="3.00"/>
<rect x="49.00" y="1072.50" width="1074.00" height="3.00"/>
<rect x="49.00" y="592.00" width="3.00" height="483.50"/>
<rect x="225.90" y="592.00" width="3.00" height="483.50"/>
<rect x="404.70" y="592.00" width="3.00" height="483.50"/>
<rect x="583.50" y="592.00" width="3.00" height="483.50"/>
<rect x="762.25" y="592.00" width="3.00" height="483.50"/>
<rect x="941.00" y="592.00" width="3.00" height="483.50"/>
<rect x="1120.00" y="592.00" width="3.00" height="483.50"/>
</g></svg>
<div class="c" id="c0_0" style="left:50.50px;top:593.50px;width:176.90px;height:62.50px;font-size:23.10px;font-weight:bold;-webkit-text-stroke-width:0.60px;"><span style="transform:translate(0.31px,0.00px) scaleX(0.9375)">SIZE</span></div>
<div class="c" id="c0_1" style="left:227.40px;top:593.50px;width:178.80px;height:62.50px;font-size:23.10px;font-weight:bold;-webkit-text-stroke-width:0.60px;"><span style="transform:translate(0.16px,0.00px) scaleX(1.1915)">M</span></div>
<div class="c" id="c0_2" style="left:406.20px;top:593.50px;width:178.80px;height:62.50px;font-size:23.10px;font-weight:bold;-webkit-text-stroke-width:0.60px;"><span style="transform:translate(-0.70px,0.00px) scaleX(0.7830)">L</span></div>
<div class="c" id="c0_3" style="left:585.00px;top:593.50px;width:178.75px;height:62.50px;font-size:23.10px;font-weight:bold;-webkit-text-stroke-width:0.60px;"><span style="transform:translate(-0.16px,0.00px) scaleX(0.9467)">XL</span></div>
<div class="c" id="c0_4" style="left:763.75px;top:593.50px;width:178.75px;height:62.50px;font-size:23.10px;font-weight:bold;-webkit-text-stroke-width:0.60px;"><span style="transform:translate(-0.04px,0.00px) scaleX(0.9885)">2XL</span></div>
<div class="c" id="c0_5" style="left:942.50px;top:593.50px;width:179.00px;height:62.50px;font-size:23.10px;font-weight:bold;-webkit-text-stroke-width:0.60px;"><span style="transform:translate(-0.18px,0.00px) scaleX(0.9998)">3XL</span></div>
<div class="c" id="c1_0" style="left:50.50px;top:656.00px;width:176.90px;height:59.00px;font-size:24.10px;font-weight:normal;"><span style="transform:translate(-0.96px,1.30px) scaleX(0.9555)">BUST</span></div>
<div class="c" id="c1_1" style="left:227.40px;top:656.00px;width:178.80px;height:59.00px;font-size:24.10px;font-weight:normal;"><span style="transform:translate(0.55px,1.30px) scaleX(1.1126)">42'</span></div>
<div class="c" id="c1_2" style="left:406.20px;top:656.00px;width:178.80px;height:59.00px;font-size:24.10px;font-weight:normal;"><span style="transform:translate(0.17px,1.30px) scaleX(1.1400)">43'</span></div>
<div class="c" id="c1_3" style="left:585.00px;top:656.00px;width:178.75px;height:59.00px;font-size:24.10px;font-weight:normal;"><span style="transform:translate(0.14px,1.30px) scaleX(1.1312)">47'</span></div>
<div class="c" id="c1_4" style="left:763.75px;top:656.00px;width:178.75px;height:59.00px;font-size:24.10px;font-weight:normal;"><span style="transform:translate(0.94px,1.30px) scaleX(1.1778)">49'</span></div>
<div class="c" id="c1_5" style="left:942.50px;top:656.00px;width:179.00px;height:59.00px;font-size:24.10px;font-weight:normal;"><span style="transform:translate(0.26px,1.30px) scaleX(1.2038)">50'</span></div>
<div class="c" id="c2_0" style="left:50.50px;top:715.00px;width:176.90px;height:64.00px;font-size:24.10px;font-weight:normal;"><span style="transform:translate(0.00px,1.30px) scaleX(0.9459)">SHOULDER</span></div>
<div class="c" id="c2_1" style="left:227.40px;top:715.00px;width:178.80px;height:64.00px;font-size:24.10px;font-weight:normal;"><span style="transform:translate(0.16px,1.30px) scaleX(1.0701)">22.5'</span></div>
<div class="c" id="c2_2" style="left:406.20px;top:715.00px;width:178.80px;height:64.00px;font-size:24.10px;font-weight:normal;"><span style="transform:translate(-0.17px,1.30px) scaleX(1.0715)">22.5'</span></div>
<div class="c" id="c2_3" style="left:585.00px;top:715.00px;width:178.75px;height:64.00px;font-size:24.10px;font-weight:normal;"><span style="transform:translate(-0.41px,1.30px) scaleX(1.0954)">23.5'</span></div>
<div class="c" id="c2_4" style="left:763.75px;top:715.00px;width:178.75px;height:64.00px;font-size:24.10px;font-weight:normal;"><span style="transform:translate(0.40px,1.30px) scaleX(1.2121)">26'</span></div>
<div class="c" id="c2_5" style="left:942.50px;top:715.00px;width:179.00px;height:64.00px;font-size:24.10px;font-weight:normal;"><span style="transform:translate(0.29px,1.30px) scaleX(1.1004)">25.5'</span></div>
<div class="c" id="c3_0" style="left:50.50px;top:779.00px;width:176.90px;height:59.00px;font-size:24.10px;font-weight:normal;"><span style="transform:translate(0.33px,1.30px) scaleX(1.0061)">WAIST</span></div>
<div class="c" id="c3_1" style="left:227.40px;top:779.00px;width:178.80px;height:59.00px;font-size:24.10px;font-weight:normal;"><span style="transform:translate(0.51px,1.30px) scaleX(0.8839)">41'</span></div>
<div class="c" id="c3_2" style="left:406.20px;top:779.00px;width:178.80px;height:59.00px;font-size:24.10px;font-weight:normal;"><span style="transform:translate(0.40px,1.30px) scaleX(1.1721)">44'</span></div>
<div class="c" id="c3_3" style="left:585.00px;top:779.00px;width:178.75px;height:59.00px;font-size:24.10px;font-weight:normal;"><span style="transform:translate(-0.02px,1.30px) scaleX(1.1744)">45'</span></div>
<div class="c" id="c3_4" style="left:763.75px;top:779.00px;width:178.75px;height:59.00px;font-size:24.10px;font-weight:normal;"><span style="transform:translate(0.94px,1.30px) scaleX(1.1778)">48'</span></div>
<div class="c" id="c3_5" style="left:942.50px;top:779.00px;width:179.00px;height:59.00px;font-size:24.10px;font-weight:normal;"><span style="transform:translate(0.79px,1.30px) scaleX(1.1741)">49'</span></div>
<div class="c" id="c4_0" style="left:50.50px;top:838.00px;width:176.90px;height:59.00px;font-size:24.10px;font-weight:normal;"><span style="transform:translate(-0.43px,1.30px) scaleX(0.9811)">HIP</span></div>
<div class="c" id="c4_1" style="left:227.40px;top:838.00px;width:178.80px;height:59.00px;font-size:24.10px;font-weight:normal;"><span style="transform:translate(0.51px,1.30px) scaleX(0.8839)">41'</span></div>
<div class="c" id="c4_2" style="left:406.20px;top:838.00px;width:178.80px;height:59.00px;font-size:24.10px;font-weight:normal;"><span style="transform:translate(0.40px,1.30px) scaleX(1.1721)">44'</span></div>
<div class="c" id="c4_3" style="left:585.00px;top:838.00px;width:178.75px;height:59.00px;font-size:24.10px;font-weight:normal;"><span style="transform:translate(-0.02px,1.30px) scaleX(1.1744)">45'</span></div>
<div class="c" id="c4_4" style="left:763.75px;top:838.00px;width:178.75px;height:59.00px;font-size:24.10px;font-weight:normal;"><span style="transform:translate(0.94px,1.30px) scaleX(1.1778)">48'</span></div>
<div class="c" id="c4_5" style="left:942.50px;top:838.00px;width:179.00px;height:59.00px;font-size:24.10px;font-weight:normal;"><span style="transform:translate(0.79px,1.30px) scaleX(1.1741)">49'</span></div>
<div class="c" id="c5_0" style="left:50.50px;top:897.00px;width:176.90px;height:59.00px;font-size:24.10px;font-weight:normal;"><span style="transform:translate(0.13px,1.30px) scaleX(0.9651)">LENGTH</span></div>
<div class="c" id="c5_1" style="left:227.40px;top:897.00px;width:178.80px;height:59.00px;font-size:24.10px;font-weight:normal;"><span style="transform:translate(0.08px,1.30px) scaleX(1.0887)">26.5'</span></div>
<div class="c" id="c5_2" style="left:406.20px;top:897.00px;width:178.80px;height:59.00px;font-size:24.10px;font-weight:normal;"><span style="transform:translate(-0.29px,1.30px) scaleX(1.0651)">27.5'</span></div>
<div class="c" id="c5_3" style="left:585.00px;top:897.00px;width:178.75px;height:59.00px;font-size:24.10px;font-weight:normal;"><span style="transform:translate(-0.28px,1.30px) scaleX(1.0632)">27.5'</span></div>
<div class="c" id="c5_4" style="left:763.75px;top:897.00px;width:178.75px;height:59.00px;font-size:24.10px;font-weight:normal;"><span style="transform:translate(0.35px,1.30px) scaleX(1.1982)">29'</span></div>
<div class="c" id="c5_5" style="left:942.50px;top:897.00px;width:179.00px;height:59.00px;font-size:24.10px;font-weight:normal;"><span style="transform:translate(0.27px,1.30px) scaleX(1.0879)">29.5'</span></div>
<div class="c" id="c6_0" style="left:50.50px;top:956.00px;width:176.90px;height:59.00px;font-size:24.10px;font-weight:normal;"><span style="transform:translate(0.80px,1.30px) scaleX(0.9591)">ARMHOLE</span></div>
<div class="c" id="c6_1" style="left:227.40px;top:956.00px;width:178.80px;height:59.00px;font-size:24.10px;font-weight:normal;"><span style="transform:translate(-0.17px,1.30px) scaleX(0.9299)">14'</span></div>
<div class="c" id="c6_2" style="left:406.20px;top:956.00px;width:178.80px;height:59.00px;font-size:24.10px;font-weight:normal;"><span style="transform:translate(-0.41px,1.30px) scaleX(0.9721)">15'</span></div>
<div class="c" id="c6_3" style="left:585.00px;top:956.00px;width:178.75px;height:59.00px;font-size:24.10px;font-weight:normal;"><span style="transform:translate(-0.61px,1.30px) scaleX(0.9695)">15'</span></div>
<div class="c" id="c6_4" style="left:763.75px;top:956.00px;width:178.75px;height:59.00px;font-size:24.10px;font-weight:normal;"><span style="transform:translate(-0.00px,1.30px) scaleX(0.9689)">15'</span></div>
<div class="c" id="c6_5" style="left:942.50px;top:956.00px;width:179.00px;height:59.00px;font-size:24.10px;font-weight:normal;"><span style="transform:translate(-0.07px,1.30px) scaleX(0.9808)">16'</span></div>
<div class="c" id="c7_0" style="left:50.50px;top:1015.00px;width:176.90px;height:59.00px;font-size:24.10px;font-weight:normal;"><span style="transform:translate(-0.16px,1.30px) scaleX(0.8673)">SLEEVE</span></div>
<div class="c" id="c7_1" style="left:227.40px;top:1015.00px;width:178.80px;height:59.00px;font-size:24.10px;font-weight:normal;"><span style="transform:translate(-0.11px,1.30px) scaleX(0.9661)">17.5'</span></div>
<div class="c" id="c7_2" style="left:406.20px;top:1015.00px;width:178.80px;height:59.00px;font-size:24.10px;font-weight:normal;"><span style="transform:translate(-0.41px,1.30px) scaleX(0.9721)">18'</span></div>
<div class="c" id="c7_3" style="left:585.00px;top:1015.00px;width:178.75px;height:59.00px;font-size:24.10px;font-weight:normal;"><span style="transform:translate(-0.61px,1.30px) scaleX(0.9695)">18'</span></div>
<div class="c" id="c7_4" style="left:763.75px;top:1015.00px;width:178.75px;height:59.00px;font-size:24.10px;font-weight:normal;"><span style="transform:translate(-0.00px,1.30px) scaleX(0.9689)">19'</span></div>
<div class="c" id="c7_5" style="left:942.50px;top:1015.00px;width:179.00px;height:59.00px;font-size:24.10px;font-weight:normal;"><span style="transform:translate(0.13px,1.30px) scaleX(0.9698)">19'</span></div>
<div class="t" id="title" style="left:0;top:39.21px;font-size:31.95px;font-weight:bold;color:#0a0a0a;-webkit-text-stroke-width:1.50px;">
<span class="w" style="left:443.75px;letter-spacing:11.775px;transform:scale(1.0000,1.0400);">SIZE</span> <span class="w" style="left:585.38px;letter-spacing:13.919px;transform:scale(1.0000,1.0400);">CHART</span>
</div>
<div class="t" id="b1" style="left:0;top:106.28px;font-size:24.76px;font-weight:normal;color:#2b2b2b;-webkit-text-stroke-width:0.45px;">
<span class="w" style="left:92.81px;letter-spacing:0.160px;transform:scale(0.9000,1.0400);">ALL</span> <span class="w" style="left:142.93px;letter-spacing:2.086px;transform:scale(0.9000,1.0400);">MEASUREMENTS</span> <span class="w" style="left:361.31px;letter-spacing:2.086px;transform:scale(0.9851,1.0400);">IN</span> <span class="w" style="left:396.50px;letter-spacing:2.875px;transform:scale(0.9000,1.0400);">INCHES</span>
</div>
<div class="t" id="b2" style="left:0;top:137.94px;font-size:24.91px;font-weight:normal;color:#2b2b2b;-webkit-text-stroke-width:0.45px;">
<span class="w" style="left:91.12px;letter-spacing:2.502px;transform:scale(0.9000,1.0400);">MATERIAL:</span> <span class="w" style="left:233.60px;letter-spacing:3.958px;transform:scale(0.9000,1.0400);">COTTON</span> <span class="w" style="left:354.73px;letter-spacing:1.542px;transform:scale(0.9000,1.0400);">FLANNEL</span>
</div>
<div class="t" id="b3" style="left:0;top:169.94px;font-size:24.91px;font-weight:normal;color:#2b2b2b;-webkit-text-stroke-width:0.45px;">
<span class="w" style="left:91.80px;letter-spacing:2.958px;transform:scale(0.9000,1.0400);">CUTTING:</span> <span class="w" style="left:224.91px;letter-spacing:1.832px;transform:scale(0.9000,1.0400);">OVERSIZED</span>
</div>
<div class="t" id="h1" style="left:0;top:502.71px;font-size:25.13px;font-weight:bold;color:#0a0a0a;-webkit-text-stroke-width:1.10px;">
<span class="w" style="left:65.03px;letter-spacing:5.854px;transform:scale(1.0000,1.0400);">PRODUCT</span> <span class="w" style="left:240.03px;letter-spacing:5.400px;transform:scale(1.0000,1.0400);">MEASUREMENT</span> <span class="w" style="left:509.62px;letter-spacing:3.513px;transform:scale(1.0000,1.0400);">FOR</span>
</div>
<div class="t" id="h2" style="left:0;top:538.91px;font-size:24.98px;font-weight:bold;color:#0a0a0a;-webkit-text-stroke-width:1.10px;">
<span class="w" style="left:66.83px;letter-spacing:2.788px;transform:scale(1.0000,1.0400);">ALL</span> <span class="w" style="left:137.40px;letter-spacing:6.906px;transform:scale(1.0000,1.0400);">VARIATION</span> <span class="w" style="left:341.43px;letter-spacing:5.320px;transform:scale(1.0000,1.0400);">EXCEPT</span> <span class="w" style="left:484.25px;letter-spacing:4.842px;transform:scale(1.0000,1.0400);">GREY</span>
</div>
<div class="t" id="l1" style="left:0;top:141.54px;font-size:14.96px;font-weight:bold;color:#0a0a0a;-webkit-text-stroke-width:0.70px;">
<span class="w" style="left:992.35px;letter-spacing:6.211px;transform:scale(1.0000,1.0010);">SHOULDER</span>
</div>
<div class="t" id="l2" style="left:0;top:244.54px;font-size:15.11px;font-weight:bold;color:#0a0a0a;-webkit-text-stroke-width:0.70px;">
<span class="w" style="left:1009.33px;letter-spacing:6.350px;transform:scale(1.0000,1.0010);">CHEST</span>
</div>
<div class="t" id="l3" style="left:0;top:312.64px;font-size:15.11px;font-weight:bold;color:#0a0a0a;-webkit-text-stroke-width:0.70px;">
<span class="w" style="left:1017.75px;letter-spacing:7.138px;transform:scale(1.0000,1.0010);">WAIST</span>
</div>
<div class="t" id="l4" style="left:0;top:552.44px;font-size:14.96px;font-weight:bold;color:#0a0a0a;-webkit-text-stroke-width:0.70px;">
<span class="w" style="left:854.45px;letter-spacing:6.395px;transform:scale(1.0000,1.0010);">LENGTH</span>
</div>
<div class="t" id="f1" style="left:0;top:1120.15px;font-size:18.16px;font-weight:bold;color:#5e5d55;-webkit-text-stroke-width:0.50px;">
<span class="w" style="left:38.88px;letter-spacing:-0.542px;transform:scale(0.9500,1.0400);">*ALL</span> <span class="w" style="left:82.26px;letter-spacing:-0.017px;transform:scale(0.9500,1.0400);">MEASUREMENT</span> <span class="w" style="left:222.29px;letter-spacing:-0.397px;transform:scale(1.1656,1.0400);">IN</span> <span class="w" style="left:247.06px;letter-spacing:1.518px;transform:scale(0.9500,1.0400);color:#dd2626;">INCH.</span> <span class="w" style="left:303.06px;letter-spacing:-0.809px;transform:scale(0.9500,1.0400);">PLEASE</span> <span class="w" style="left:372.77px;letter-spacing:-0.447px;transform:scale(0.9500,1.0400);">ALLOW</span> <span class="w" style="left:437.47px;transform:scale(0.8200,1.0400);">1</span> <span class="w" style="left:450.73px;transform:scale(1.6000,1.0400);">-</span> <span class="w" style="left:466.79px;transform:scale(1.1429,1.0400);">2</span> <span class="w" style="left:483.81px;letter-spacing:-0.167px;transform:scale(0.9500,1.0400);">INCHES</span> <span class="w" style="left:553.81px;letter-spacing:-0.397px;transform:scale(0.9500,1.0400);">DIFFERENCES</span> <span class="w" style="left:677.06px;letter-spacing:-0.977px;transform:scale(0.9500,1.0400);">DUE</span> <span class="w" style="left:717.51px;letter-spacing:-0.397px;transform:scale(0.9477,1.0400);">TO</span> <span class="w" style="left:746.31px;letter-spacing:0.888px;transform:scale(0.9500,1.0400);">MANUAL</span>
</div>
<div class="t" id="f2" style="left:0;top:1147.35px;font-size:18.30px;font-weight:bold;color:#5e5d55;-webkit-text-stroke-width:0.50px;">
<span class="w" style="left:37.81px;letter-spacing:0.976px;transform:scale(0.9500,1.0400);">MEASUREMENT</span> <span class="w" style="left:190.07px;letter-spacing:2.164px;transform:scale(0.9500,1.0400);">AND</span> <span class="w" style="left:237.31px;letter-spacing:0.403px;transform:scale(0.9500,1.0400);">DIFFERENT</span> <span class="w" style="left:343.06px;letter-spacing:1.773px;transform:scale(0.9500,1.0400);">MEASURING</span> <span class="w" style="left:469.01px;letter-spacing:0.442px;transform:scale(0.9500,1.0400);">TAPE.</span>
</div>
<div class="t logo" id="logo" style="left:0;top:1139.24px;font-size:41.29px;font-weight:bold;color:#000;">
<span class="w" style="left:1020.49px;transform:scale(0.9646,1.0400);color:#814f4d;">Z</span><span class="w" style="left:1048.82px;transform:scale(1.0481,1.0400);color:#6b8a8f;">U</span><span class="w" style="left:1083.64px;transform:scale(1.0537,1.0400);color:#796c77;">C</span><span class="w" style="left:1113.64px;transform:scale(1.0537,1.0400);color:#e9b18b;">C</span><span class="w" style="left:1144.76px;transform:scale(0.9762,1.0400);color:#a8959e;">A</span>
</div>
<div style="position:absolute;left:67.5px;top:114.0px;width:9px;height:9px;border-radius:50%;background:#2b2b2b"></div>
<div style="position:absolute;left:67.5px;top:146.1px;width:9px;height:9px;border-radius:50%;background:#2b2b2b"></div>
<div style="position:absolute;left:67.5px;top:178.0px;width:9px;height:9px;border-radius:50%;background:#2b2b2b"></div>
</div></body></html>
